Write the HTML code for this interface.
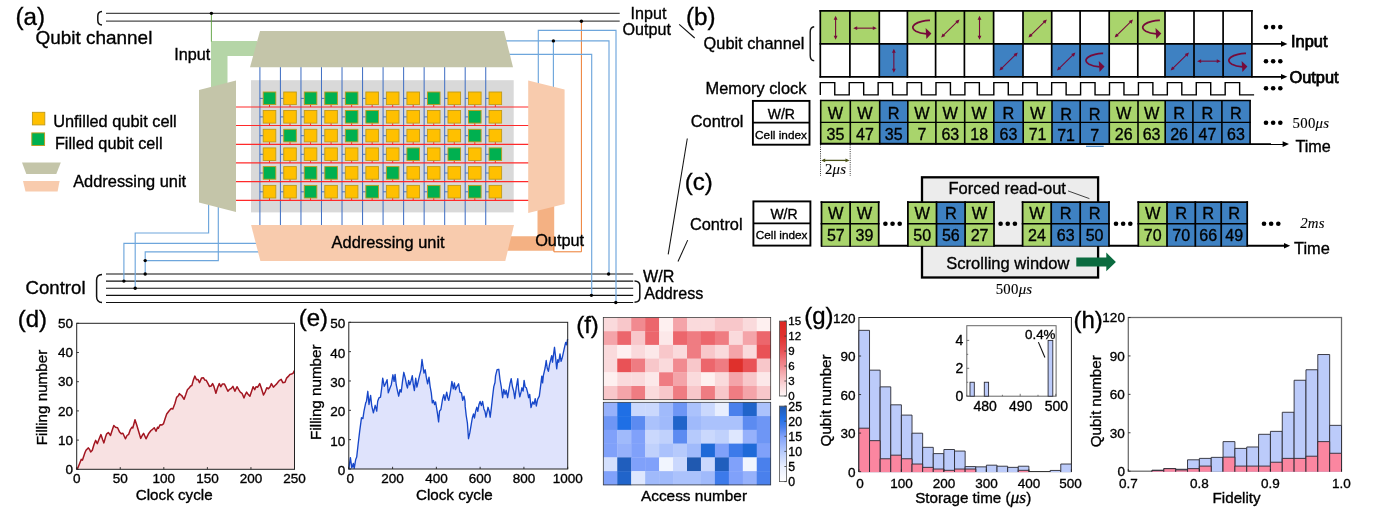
<!DOCTYPE html>
<html lang="en"><head><meta charset="utf-8"><title>Quantum memory figure</title>
<style>
html,body{margin:0;padding:0;background:#fff;}
body{width:1378px;height:514px;overflow:hidden;font-family:"Liberation Sans",sans-serif;}
svg{display:block;}
svg text{white-space:pre;stroke:#000;stroke-width:0.34px;}
</style></head><body>
<svg width="1378" height="514" viewBox="0 0 1378 514">
<rect width="1378" height="514" fill="#fff"/>
<!-- panel a -->
<line x1="106" y1="13.35" x2="619.7" y2="13.35" stroke="#4a4a4a" stroke-width="1.2"/>
<line x1="106" y1="21.2" x2="619.7" y2="21.2" stroke="#4a4a4a" stroke-width="1.2"/>
<path d="M102,11.6 C98.6,11.9 97.8,13.6 97.8,16 L97.8,20.5 C97.8,23.2 98.6,24.7 102,25" fill="none" stroke="#111" stroke-width="1.5"/>
<line x1="106" y1="274.0" x2="633.2" y2="274.0" stroke="#111" stroke-width="1.05"/>
<line x1="106" y1="281.1" x2="633.2" y2="281.1" stroke="#111" stroke-width="1.05"/>
<line x1="106" y1="288.25" x2="633.2" y2="288.25" stroke="#111" stroke-width="1.05"/>
<line x1="106" y1="295.35" x2="633.2" y2="295.35" stroke="#111" stroke-width="1.05"/>
<line x1="106" y1="302.45" x2="633.2" y2="302.45" stroke="#111" stroke-width="1.05"/>
<path d="M102,274.4 C98,274.6 96.6,276.5 96.6,280 L96.6,296.5 C96.6,300.3 98,302.3 102,302.6" fill="none" stroke="#111" stroke-width="1.5"/>
<path d="M634.5,281 C638.3,281.2 639.8,282.6 639.8,285.5 L639.8,297.8 C639.8,300.6 638.3,302 634.5,302.3" fill="none" stroke="#111" stroke-width="1.5"/>
<rect x="251" y="80.2" width="262.7" height="132.2" fill="#d9d9d9"/>
<path d="M211,41 L257,41 L257,56.1 L227.5,56.1 L227.5,90 L211,90 Z" fill="#b5d5a7"/>
<line x1="211.4" y1="13.35" x2="211.4" y2="41.5" stroke="#5aa03c" stroke-width="0.9"/>
<path d="M537.5,200 L554.2,200 L554.2,250.8 L505,250.8 L509,236.3 L537.5,236.3 Z" fill="#f4b183"/>
<path d="M581.4,21.2 L581.4,251.8 L553.9,251.8 L553.9,236" fill="none" stroke="#ed7d31" stroke-width="1"/>
<path d="M208.6,200 L208.6,233 L135.2,233 L135.2,288.1" fill="none" stroke="#6ea6dc" stroke-width="1.15"/>
<path d="M218.3,205 L218.3,260.6 L145.2,260.6" fill="none" stroke="#6ea6dc" stroke-width="1.15"/>
<path d="M258,243.3 L123.9,243.3 L123.9,281" fill="none" stroke="#6ea6dc" stroke-width="1.15"/>
<path d="M260,251.8 L145.2,251.8 L145.2,273.9" fill="none" stroke="#6ea6dc" stroke-width="1.15"/>
<path d="M538.3,85 L538.3,30.3 L616,30.3 L616,302.2" fill="none" stroke="#6ea6dc" stroke-width="1.15"/>
<path d="M505,40.9 L609,40.9 L609,273.9" fill="none" stroke="#6ea6dc" stroke-width="1.15"/>
<path d="M553.4,40.9 L553.4,88" fill="none" stroke="#6ea6dc" stroke-width="1.15"/>
<path d="M509,54.3 L591.7,54.3 L591.7,295.1" fill="none" stroke="#6ea6dc" stroke-width="1.15"/>
<line x1="259.90" y1="66" x2="259.90" y2="226" stroke="#4472c4" stroke-width="1.05"/>
<line x1="280.43" y1="66" x2="280.43" y2="226" stroke="#4472c4" stroke-width="1.05"/>
<line x1="300.96" y1="66" x2="300.96" y2="226" stroke="#4472c4" stroke-width="1.05"/>
<line x1="321.49" y1="66" x2="321.49" y2="226" stroke="#4472c4" stroke-width="1.05"/>
<line x1="342.02" y1="66" x2="342.02" y2="226" stroke="#4472c4" stroke-width="1.05"/>
<line x1="362.55" y1="66" x2="362.55" y2="226" stroke="#4472c4" stroke-width="1.05"/>
<line x1="383.08" y1="66" x2="383.08" y2="226" stroke="#4472c4" stroke-width="1.05"/>
<line x1="403.61" y1="66" x2="403.61" y2="226" stroke="#4472c4" stroke-width="1.05"/>
<line x1="424.14" y1="66" x2="424.14" y2="226" stroke="#4472c4" stroke-width="1.05"/>
<line x1="444.67" y1="66" x2="444.67" y2="226" stroke="#4472c4" stroke-width="1.05"/>
<line x1="465.20" y1="66" x2="465.20" y2="226" stroke="#4472c4" stroke-width="1.05"/>
<line x1="485.73" y1="66" x2="485.73" y2="226" stroke="#4472c4" stroke-width="1.05"/>
<line x1="236" y1="107.0" x2="529" y2="107.0" stroke="#ff2a2a" stroke-width="1.15"/>
<line x1="236" y1="125.5" x2="529" y2="125.5" stroke="#ff2a2a" stroke-width="1.15"/>
<line x1="236" y1="144.3" x2="529" y2="144.3" stroke="#ff2a2a" stroke-width="1.15"/>
<line x1="236" y1="162.9" x2="529" y2="162.9" stroke="#ff2a2a" stroke-width="1.15"/>
<line x1="236" y1="181.6" x2="529" y2="181.6" stroke="#ff2a2a" stroke-width="1.15"/>
<line x1="236" y1="200.4" x2="529" y2="200.4" stroke="#ff2a2a" stroke-width="1.15"/>
<line x1="259.90" y1="98.40" x2="263.20" y2="98.40" stroke="#4472c4" stroke-width="1"/>
<line x1="269.50" y1="104.60" x2="269.50" y2="107.00" stroke="#ff2a2a" stroke-width="1"/>
<rect x="263.20" y="92.00" width="12.6" height="12.6" fill="#00b050" stroke="#bf9a1a" stroke-width="0.9"/>
<line x1="280.43" y1="98.40" x2="283.73" y2="98.40" stroke="#4472c4" stroke-width="1"/>
<line x1="290.03" y1="104.60" x2="290.03" y2="107.00" stroke="#ff2a2a" stroke-width="1"/>
<rect x="283.73" y="92.00" width="12.6" height="12.6" fill="#ffc000" stroke="#bf9a1a" stroke-width="0.9"/>
<line x1="300.96" y1="98.40" x2="304.26" y2="98.40" stroke="#4472c4" stroke-width="1"/>
<line x1="310.56" y1="104.60" x2="310.56" y2="107.00" stroke="#ff2a2a" stroke-width="1"/>
<rect x="304.26" y="92.00" width="12.6" height="12.6" fill="#00b050" stroke="#bf9a1a" stroke-width="0.9"/>
<line x1="321.49" y1="98.40" x2="324.79" y2="98.40" stroke="#4472c4" stroke-width="1"/>
<line x1="331.09" y1="104.60" x2="331.09" y2="107.00" stroke="#ff2a2a" stroke-width="1"/>
<rect x="324.79" y="92.00" width="12.6" height="12.6" fill="#00b050" stroke="#bf9a1a" stroke-width="0.9"/>
<line x1="342.02" y1="98.40" x2="345.32" y2="98.40" stroke="#4472c4" stroke-width="1"/>
<line x1="351.62" y1="104.60" x2="351.62" y2="107.00" stroke="#ff2a2a" stroke-width="1"/>
<rect x="345.32" y="92.00" width="12.6" height="12.6" fill="#00b050" stroke="#bf9a1a" stroke-width="0.9"/>
<line x1="362.55" y1="98.40" x2="365.85" y2="98.40" stroke="#4472c4" stroke-width="1"/>
<line x1="372.15" y1="104.60" x2="372.15" y2="107.00" stroke="#ff2a2a" stroke-width="1"/>
<rect x="365.85" y="92.00" width="12.6" height="12.6" fill="#ffc000" stroke="#bf9a1a" stroke-width="0.9"/>
<line x1="383.08" y1="98.40" x2="386.38" y2="98.40" stroke="#4472c4" stroke-width="1"/>
<line x1="392.68" y1="104.60" x2="392.68" y2="107.00" stroke="#ff2a2a" stroke-width="1"/>
<rect x="386.38" y="92.00" width="12.6" height="12.6" fill="#ffc000" stroke="#bf9a1a" stroke-width="0.9"/>
<line x1="403.61" y1="98.40" x2="406.91" y2="98.40" stroke="#4472c4" stroke-width="1"/>
<line x1="413.21" y1="104.60" x2="413.21" y2="107.00" stroke="#ff2a2a" stroke-width="1"/>
<rect x="406.91" y="92.00" width="12.6" height="12.6" fill="#ffc000" stroke="#bf9a1a" stroke-width="0.9"/>
<line x1="424.14" y1="98.40" x2="427.44" y2="98.40" stroke="#4472c4" stroke-width="1"/>
<line x1="433.74" y1="104.60" x2="433.74" y2="107.00" stroke="#ff2a2a" stroke-width="1"/>
<rect x="427.44" y="92.00" width="12.6" height="12.6" fill="#00b050" stroke="#bf9a1a" stroke-width="0.9"/>
<line x1="444.67" y1="98.40" x2="447.97" y2="98.40" stroke="#4472c4" stroke-width="1"/>
<line x1="454.27" y1="104.60" x2="454.27" y2="107.00" stroke="#ff2a2a" stroke-width="1"/>
<rect x="447.97" y="92.00" width="12.6" height="12.6" fill="#ffc000" stroke="#bf9a1a" stroke-width="0.9"/>
<line x1="465.20" y1="98.40" x2="468.50" y2="98.40" stroke="#4472c4" stroke-width="1"/>
<line x1="474.80" y1="104.60" x2="474.80" y2="107.00" stroke="#ff2a2a" stroke-width="1"/>
<rect x="468.50" y="92.00" width="12.6" height="12.6" fill="#ffc000" stroke="#bf9a1a" stroke-width="0.9"/>
<line x1="485.73" y1="98.40" x2="489.03" y2="98.40" stroke="#4472c4" stroke-width="1"/>
<line x1="495.33" y1="104.60" x2="495.33" y2="107.00" stroke="#ff2a2a" stroke-width="1"/>
<rect x="489.03" y="92.00" width="12.6" height="12.6" fill="#ffc000" stroke="#bf9a1a" stroke-width="0.9"/>
<line x1="259.90" y1="116.90" x2="263.20" y2="116.90" stroke="#4472c4" stroke-width="1"/>
<line x1="269.50" y1="123.10" x2="269.50" y2="125.50" stroke="#ff2a2a" stroke-width="1"/>
<rect x="263.20" y="110.50" width="12.6" height="12.6" fill="#ffc000" stroke="#bf9a1a" stroke-width="0.9"/>
<line x1="280.43" y1="116.90" x2="283.73" y2="116.90" stroke="#4472c4" stroke-width="1"/>
<line x1="290.03" y1="123.10" x2="290.03" y2="125.50" stroke="#ff2a2a" stroke-width="1"/>
<rect x="283.73" y="110.50" width="12.6" height="12.6" fill="#ffc000" stroke="#bf9a1a" stroke-width="0.9"/>
<line x1="300.96" y1="116.90" x2="304.26" y2="116.90" stroke="#4472c4" stroke-width="1"/>
<line x1="310.56" y1="123.10" x2="310.56" y2="125.50" stroke="#ff2a2a" stroke-width="1"/>
<rect x="304.26" y="110.50" width="12.6" height="12.6" fill="#ffc000" stroke="#bf9a1a" stroke-width="0.9"/>
<line x1="321.49" y1="116.90" x2="324.79" y2="116.90" stroke="#4472c4" stroke-width="1"/>
<line x1="331.09" y1="123.10" x2="331.09" y2="125.50" stroke="#ff2a2a" stroke-width="1"/>
<rect x="324.79" y="110.50" width="12.6" height="12.6" fill="#ffc000" stroke="#bf9a1a" stroke-width="0.9"/>
<line x1="342.02" y1="116.90" x2="345.32" y2="116.90" stroke="#4472c4" stroke-width="1"/>
<line x1="351.62" y1="123.10" x2="351.62" y2="125.50" stroke="#ff2a2a" stroke-width="1"/>
<rect x="345.32" y="110.50" width="12.6" height="12.6" fill="#00b050" stroke="#bf9a1a" stroke-width="0.9"/>
<line x1="362.55" y1="116.90" x2="365.85" y2="116.90" stroke="#4472c4" stroke-width="1"/>
<line x1="372.15" y1="123.10" x2="372.15" y2="125.50" stroke="#ff2a2a" stroke-width="1"/>
<rect x="365.85" y="110.50" width="12.6" height="12.6" fill="#00b050" stroke="#bf9a1a" stroke-width="0.9"/>
<line x1="383.08" y1="116.90" x2="386.38" y2="116.90" stroke="#4472c4" stroke-width="1"/>
<line x1="392.68" y1="123.10" x2="392.68" y2="125.50" stroke="#ff2a2a" stroke-width="1"/>
<rect x="386.38" y="110.50" width="12.6" height="12.6" fill="#ffc000" stroke="#bf9a1a" stroke-width="0.9"/>
<line x1="403.61" y1="116.90" x2="406.91" y2="116.90" stroke="#4472c4" stroke-width="1"/>
<line x1="413.21" y1="123.10" x2="413.21" y2="125.50" stroke="#ff2a2a" stroke-width="1"/>
<rect x="406.91" y="110.50" width="12.6" height="12.6" fill="#ffc000" stroke="#bf9a1a" stroke-width="0.9"/>
<line x1="424.14" y1="116.90" x2="427.44" y2="116.90" stroke="#4472c4" stroke-width="1"/>
<line x1="433.74" y1="123.10" x2="433.74" y2="125.50" stroke="#ff2a2a" stroke-width="1"/>
<rect x="427.44" y="110.50" width="12.6" height="12.6" fill="#ffc000" stroke="#bf9a1a" stroke-width="0.9"/>
<line x1="444.67" y1="116.90" x2="447.97" y2="116.90" stroke="#4472c4" stroke-width="1"/>
<line x1="454.27" y1="123.10" x2="454.27" y2="125.50" stroke="#ff2a2a" stroke-width="1"/>
<rect x="447.97" y="110.50" width="12.6" height="12.6" fill="#ffc000" stroke="#bf9a1a" stroke-width="0.9"/>
<line x1="465.20" y1="116.90" x2="468.50" y2="116.90" stroke="#4472c4" stroke-width="1"/>
<line x1="474.80" y1="123.10" x2="474.80" y2="125.50" stroke="#ff2a2a" stroke-width="1"/>
<rect x="468.50" y="110.50" width="12.6" height="12.6" fill="#00b050" stroke="#bf9a1a" stroke-width="0.9"/>
<line x1="485.73" y1="116.90" x2="489.03" y2="116.90" stroke="#4472c4" stroke-width="1"/>
<line x1="495.33" y1="123.10" x2="495.33" y2="125.50" stroke="#ff2a2a" stroke-width="1"/>
<rect x="489.03" y="110.50" width="12.6" height="12.6" fill="#ffc000" stroke="#bf9a1a" stroke-width="0.9"/>
<line x1="259.90" y1="135.70" x2="263.20" y2="135.70" stroke="#4472c4" stroke-width="1"/>
<line x1="269.50" y1="141.90" x2="269.50" y2="144.30" stroke="#ff2a2a" stroke-width="1"/>
<rect x="263.20" y="129.30" width="12.6" height="12.6" fill="#ffc000" stroke="#bf9a1a" stroke-width="0.9"/>
<line x1="280.43" y1="135.70" x2="283.73" y2="135.70" stroke="#4472c4" stroke-width="1"/>
<line x1="290.03" y1="141.90" x2="290.03" y2="144.30" stroke="#ff2a2a" stroke-width="1"/>
<rect x="283.73" y="129.30" width="12.6" height="12.6" fill="#00b050" stroke="#bf9a1a" stroke-width="0.9"/>
<line x1="300.96" y1="135.70" x2="304.26" y2="135.70" stroke="#4472c4" stroke-width="1"/>
<line x1="310.56" y1="141.90" x2="310.56" y2="144.30" stroke="#ff2a2a" stroke-width="1"/>
<rect x="304.26" y="129.30" width="12.6" height="12.6" fill="#ffc000" stroke="#bf9a1a" stroke-width="0.9"/>
<line x1="321.49" y1="135.70" x2="324.79" y2="135.70" stroke="#4472c4" stroke-width="1"/>
<line x1="331.09" y1="141.90" x2="331.09" y2="144.30" stroke="#ff2a2a" stroke-width="1"/>
<rect x="324.79" y="129.30" width="12.6" height="12.6" fill="#ffc000" stroke="#bf9a1a" stroke-width="0.9"/>
<line x1="342.02" y1="135.70" x2="345.32" y2="135.70" stroke="#4472c4" stroke-width="1"/>
<line x1="351.62" y1="141.90" x2="351.62" y2="144.30" stroke="#ff2a2a" stroke-width="1"/>
<rect x="345.32" y="129.30" width="12.6" height="12.6" fill="#00b050" stroke="#bf9a1a" stroke-width="0.9"/>
<line x1="362.55" y1="135.70" x2="365.85" y2="135.70" stroke="#4472c4" stroke-width="1"/>
<line x1="372.15" y1="141.90" x2="372.15" y2="144.30" stroke="#ff2a2a" stroke-width="1"/>
<rect x="365.85" y="129.30" width="12.6" height="12.6" fill="#ffc000" stroke="#bf9a1a" stroke-width="0.9"/>
<line x1="383.08" y1="135.70" x2="386.38" y2="135.70" stroke="#4472c4" stroke-width="1"/>
<line x1="392.68" y1="141.90" x2="392.68" y2="144.30" stroke="#ff2a2a" stroke-width="1"/>
<rect x="386.38" y="129.30" width="12.6" height="12.6" fill="#ffc000" stroke="#bf9a1a" stroke-width="0.9"/>
<line x1="403.61" y1="135.70" x2="406.91" y2="135.70" stroke="#4472c4" stroke-width="1"/>
<line x1="413.21" y1="141.90" x2="413.21" y2="144.30" stroke="#ff2a2a" stroke-width="1"/>
<rect x="406.91" y="129.30" width="12.6" height="12.6" fill="#ffc000" stroke="#bf9a1a" stroke-width="0.9"/>
<line x1="424.14" y1="135.70" x2="427.44" y2="135.70" stroke="#4472c4" stroke-width="1"/>
<line x1="433.74" y1="141.90" x2="433.74" y2="144.30" stroke="#ff2a2a" stroke-width="1"/>
<rect x="427.44" y="129.30" width="12.6" height="12.6" fill="#ffc000" stroke="#bf9a1a" stroke-width="0.9"/>
<line x1="444.67" y1="135.70" x2="447.97" y2="135.70" stroke="#4472c4" stroke-width="1"/>
<line x1="454.27" y1="141.90" x2="454.27" y2="144.30" stroke="#ff2a2a" stroke-width="1"/>
<rect x="447.97" y="129.30" width="12.6" height="12.6" fill="#ffc000" stroke="#bf9a1a" stroke-width="0.9"/>
<line x1="465.20" y1="135.70" x2="468.50" y2="135.70" stroke="#4472c4" stroke-width="1"/>
<line x1="474.80" y1="141.90" x2="474.80" y2="144.30" stroke="#ff2a2a" stroke-width="1"/>
<rect x="468.50" y="129.30" width="12.6" height="12.6" fill="#00b050" stroke="#bf9a1a" stroke-width="0.9"/>
<line x1="485.73" y1="135.70" x2="489.03" y2="135.70" stroke="#4472c4" stroke-width="1"/>
<line x1="495.33" y1="141.90" x2="495.33" y2="144.30" stroke="#ff2a2a" stroke-width="1"/>
<rect x="489.03" y="129.30" width="12.6" height="12.6" fill="#ffc000" stroke="#bf9a1a" stroke-width="0.9"/>
<line x1="259.90" y1="154.30" x2="263.20" y2="154.30" stroke="#4472c4" stroke-width="1"/>
<line x1="269.50" y1="160.50" x2="269.50" y2="162.90" stroke="#ff2a2a" stroke-width="1"/>
<rect x="263.20" y="147.90" width="12.6" height="12.6" fill="#ffc000" stroke="#bf9a1a" stroke-width="0.9"/>
<line x1="280.43" y1="154.30" x2="283.73" y2="154.30" stroke="#4472c4" stroke-width="1"/>
<line x1="290.03" y1="160.50" x2="290.03" y2="162.90" stroke="#ff2a2a" stroke-width="1"/>
<rect x="283.73" y="147.90" width="12.6" height="12.6" fill="#ffc000" stroke="#bf9a1a" stroke-width="0.9"/>
<line x1="300.96" y1="154.30" x2="304.26" y2="154.30" stroke="#4472c4" stroke-width="1"/>
<line x1="310.56" y1="160.50" x2="310.56" y2="162.90" stroke="#ff2a2a" stroke-width="1"/>
<rect x="304.26" y="147.90" width="12.6" height="12.6" fill="#ffc000" stroke="#bf9a1a" stroke-width="0.9"/>
<line x1="321.49" y1="154.30" x2="324.79" y2="154.30" stroke="#4472c4" stroke-width="1"/>
<line x1="331.09" y1="160.50" x2="331.09" y2="162.90" stroke="#ff2a2a" stroke-width="1"/>
<rect x="324.79" y="147.90" width="12.6" height="12.6" fill="#ffc000" stroke="#bf9a1a" stroke-width="0.9"/>
<line x1="342.02" y1="154.30" x2="345.32" y2="154.30" stroke="#4472c4" stroke-width="1"/>
<line x1="351.62" y1="160.50" x2="351.62" y2="162.90" stroke="#ff2a2a" stroke-width="1"/>
<rect x="345.32" y="147.90" width="12.6" height="12.6" fill="#ffc000" stroke="#bf9a1a" stroke-width="0.9"/>
<line x1="362.55" y1="154.30" x2="365.85" y2="154.30" stroke="#4472c4" stroke-width="1"/>
<line x1="372.15" y1="160.50" x2="372.15" y2="162.90" stroke="#ff2a2a" stroke-width="1"/>
<rect x="365.85" y="147.90" width="12.6" height="12.6" fill="#ffc000" stroke="#bf9a1a" stroke-width="0.9"/>
<line x1="383.08" y1="154.30" x2="386.38" y2="154.30" stroke="#4472c4" stroke-width="1"/>
<line x1="392.68" y1="160.50" x2="392.68" y2="162.90" stroke="#ff2a2a" stroke-width="1"/>
<rect x="386.38" y="147.90" width="12.6" height="12.6" fill="#ffc000" stroke="#bf9a1a" stroke-width="0.9"/>
<line x1="403.61" y1="154.30" x2="406.91" y2="154.30" stroke="#4472c4" stroke-width="1"/>
<line x1="413.21" y1="160.50" x2="413.21" y2="162.90" stroke="#ff2a2a" stroke-width="1"/>
<rect x="406.91" y="147.90" width="12.6" height="12.6" fill="#00b050" stroke="#bf9a1a" stroke-width="0.9"/>
<line x1="424.14" y1="154.30" x2="427.44" y2="154.30" stroke="#4472c4" stroke-width="1"/>
<line x1="433.74" y1="160.50" x2="433.74" y2="162.90" stroke="#ff2a2a" stroke-width="1"/>
<rect x="427.44" y="147.90" width="12.6" height="12.6" fill="#ffc000" stroke="#bf9a1a" stroke-width="0.9"/>
<line x1="444.67" y1="154.30" x2="447.97" y2="154.30" stroke="#4472c4" stroke-width="1"/>
<line x1="454.27" y1="160.50" x2="454.27" y2="162.90" stroke="#ff2a2a" stroke-width="1"/>
<rect x="447.97" y="147.90" width="12.6" height="12.6" fill="#00b050" stroke="#bf9a1a" stroke-width="0.9"/>
<line x1="465.20" y1="154.30" x2="468.50" y2="154.30" stroke="#4472c4" stroke-width="1"/>
<line x1="474.80" y1="160.50" x2="474.80" y2="162.90" stroke="#ff2a2a" stroke-width="1"/>
<rect x="468.50" y="147.90" width="12.6" height="12.6" fill="#ffc000" stroke="#bf9a1a" stroke-width="0.9"/>
<line x1="485.73" y1="154.30" x2="489.03" y2="154.30" stroke="#4472c4" stroke-width="1"/>
<line x1="495.33" y1="160.50" x2="495.33" y2="162.90" stroke="#ff2a2a" stroke-width="1"/>
<rect x="489.03" y="147.90" width="12.6" height="12.6" fill="#00b050" stroke="#bf9a1a" stroke-width="0.9"/>
<line x1="259.90" y1="173.00" x2="263.20" y2="173.00" stroke="#4472c4" stroke-width="1"/>
<line x1="269.50" y1="179.20" x2="269.50" y2="181.60" stroke="#ff2a2a" stroke-width="1"/>
<rect x="263.20" y="166.60" width="12.6" height="12.6" fill="#00b050" stroke="#bf9a1a" stroke-width="0.9"/>
<line x1="280.43" y1="173.00" x2="283.73" y2="173.00" stroke="#4472c4" stroke-width="1"/>
<line x1="290.03" y1="179.20" x2="290.03" y2="181.60" stroke="#ff2a2a" stroke-width="1"/>
<rect x="283.73" y="166.60" width="12.6" height="12.6" fill="#ffc000" stroke="#bf9a1a" stroke-width="0.9"/>
<line x1="300.96" y1="173.00" x2="304.26" y2="173.00" stroke="#4472c4" stroke-width="1"/>
<line x1="310.56" y1="179.20" x2="310.56" y2="181.60" stroke="#ff2a2a" stroke-width="1"/>
<rect x="304.26" y="166.60" width="12.6" height="12.6" fill="#00b050" stroke="#bf9a1a" stroke-width="0.9"/>
<line x1="321.49" y1="173.00" x2="324.79" y2="173.00" stroke="#4472c4" stroke-width="1"/>
<line x1="331.09" y1="179.20" x2="331.09" y2="181.60" stroke="#ff2a2a" stroke-width="1"/>
<rect x="324.79" y="166.60" width="12.6" height="12.6" fill="#00b050" stroke="#bf9a1a" stroke-width="0.9"/>
<line x1="342.02" y1="173.00" x2="345.32" y2="173.00" stroke="#4472c4" stroke-width="1"/>
<line x1="351.62" y1="179.20" x2="351.62" y2="181.60" stroke="#ff2a2a" stroke-width="1"/>
<rect x="345.32" y="166.60" width="12.6" height="12.6" fill="#ffc000" stroke="#bf9a1a" stroke-width="0.9"/>
<line x1="362.55" y1="173.00" x2="365.85" y2="173.00" stroke="#4472c4" stroke-width="1"/>
<line x1="372.15" y1="179.20" x2="372.15" y2="181.60" stroke="#ff2a2a" stroke-width="1"/>
<rect x="365.85" y="166.60" width="12.6" height="12.6" fill="#ffc000" stroke="#bf9a1a" stroke-width="0.9"/>
<line x1="383.08" y1="173.00" x2="386.38" y2="173.00" stroke="#4472c4" stroke-width="1"/>
<line x1="392.68" y1="179.20" x2="392.68" y2="181.60" stroke="#ff2a2a" stroke-width="1"/>
<rect x="386.38" y="166.60" width="12.6" height="12.6" fill="#00b050" stroke="#bf9a1a" stroke-width="0.9"/>
<line x1="403.61" y1="173.00" x2="406.91" y2="173.00" stroke="#4472c4" stroke-width="1"/>
<line x1="413.21" y1="179.20" x2="413.21" y2="181.60" stroke="#ff2a2a" stroke-width="1"/>
<rect x="406.91" y="166.60" width="12.6" height="12.6" fill="#ffc000" stroke="#bf9a1a" stroke-width="0.9"/>
<line x1="424.14" y1="173.00" x2="427.44" y2="173.00" stroke="#4472c4" stroke-width="1"/>
<line x1="433.74" y1="179.20" x2="433.74" y2="181.60" stroke="#ff2a2a" stroke-width="1"/>
<rect x="427.44" y="166.60" width="12.6" height="12.6" fill="#ffc000" stroke="#bf9a1a" stroke-width="0.9"/>
<line x1="444.67" y1="173.00" x2="447.97" y2="173.00" stroke="#4472c4" stroke-width="1"/>
<line x1="454.27" y1="179.20" x2="454.27" y2="181.60" stroke="#ff2a2a" stroke-width="1"/>
<rect x="447.97" y="166.60" width="12.6" height="12.6" fill="#ffc000" stroke="#bf9a1a" stroke-width="0.9"/>
<line x1="465.20" y1="173.00" x2="468.50" y2="173.00" stroke="#4472c4" stroke-width="1"/>
<line x1="474.80" y1="179.20" x2="474.80" y2="181.60" stroke="#ff2a2a" stroke-width="1"/>
<rect x="468.50" y="166.60" width="12.6" height="12.6" fill="#ffc000" stroke="#bf9a1a" stroke-width="0.9"/>
<line x1="485.73" y1="173.00" x2="489.03" y2="173.00" stroke="#4472c4" stroke-width="1"/>
<line x1="495.33" y1="179.20" x2="495.33" y2="181.60" stroke="#ff2a2a" stroke-width="1"/>
<rect x="489.03" y="166.60" width="12.6" height="12.6" fill="#ffc000" stroke="#bf9a1a" stroke-width="0.9"/>
<line x1="259.90" y1="191.80" x2="263.20" y2="191.80" stroke="#4472c4" stroke-width="1"/>
<line x1="269.50" y1="198.00" x2="269.50" y2="200.40" stroke="#ff2a2a" stroke-width="1"/>
<rect x="263.20" y="185.40" width="12.6" height="12.6" fill="#ffc000" stroke="#bf9a1a" stroke-width="0.9"/>
<line x1="280.43" y1="191.80" x2="283.73" y2="191.80" stroke="#4472c4" stroke-width="1"/>
<line x1="290.03" y1="198.00" x2="290.03" y2="200.40" stroke="#ff2a2a" stroke-width="1"/>
<rect x="283.73" y="185.40" width="12.6" height="12.6" fill="#ffc000" stroke="#bf9a1a" stroke-width="0.9"/>
<line x1="300.96" y1="191.80" x2="304.26" y2="191.80" stroke="#4472c4" stroke-width="1"/>
<line x1="310.56" y1="198.00" x2="310.56" y2="200.40" stroke="#ff2a2a" stroke-width="1"/>
<rect x="304.26" y="185.40" width="12.6" height="12.6" fill="#00b050" stroke="#bf9a1a" stroke-width="0.9"/>
<line x1="321.49" y1="191.80" x2="324.79" y2="191.80" stroke="#4472c4" stroke-width="1"/>
<line x1="331.09" y1="198.00" x2="331.09" y2="200.40" stroke="#ff2a2a" stroke-width="1"/>
<rect x="324.79" y="185.40" width="12.6" height="12.6" fill="#ffc000" stroke="#bf9a1a" stroke-width="0.9"/>
<line x1="342.02" y1="191.80" x2="345.32" y2="191.80" stroke="#4472c4" stroke-width="1"/>
<line x1="351.62" y1="198.00" x2="351.62" y2="200.40" stroke="#ff2a2a" stroke-width="1"/>
<rect x="345.32" y="185.40" width="12.6" height="12.6" fill="#ffc000" stroke="#bf9a1a" stroke-width="0.9"/>
<line x1="362.55" y1="191.80" x2="365.85" y2="191.80" stroke="#4472c4" stroke-width="1"/>
<line x1="372.15" y1="198.00" x2="372.15" y2="200.40" stroke="#ff2a2a" stroke-width="1"/>
<rect x="365.85" y="185.40" width="12.6" height="12.6" fill="#00b050" stroke="#bf9a1a" stroke-width="0.9"/>
<line x1="383.08" y1="191.80" x2="386.38" y2="191.80" stroke="#4472c4" stroke-width="1"/>
<line x1="392.68" y1="198.00" x2="392.68" y2="200.40" stroke="#ff2a2a" stroke-width="1"/>
<rect x="386.38" y="185.40" width="12.6" height="12.6" fill="#ffc000" stroke="#bf9a1a" stroke-width="0.9"/>
<line x1="403.61" y1="191.80" x2="406.91" y2="191.80" stroke="#4472c4" stroke-width="1"/>
<line x1="413.21" y1="198.00" x2="413.21" y2="200.40" stroke="#ff2a2a" stroke-width="1"/>
<rect x="406.91" y="185.40" width="12.6" height="12.6" fill="#ffc000" stroke="#bf9a1a" stroke-width="0.9"/>
<line x1="424.14" y1="191.80" x2="427.44" y2="191.80" stroke="#4472c4" stroke-width="1"/>
<line x1="433.74" y1="198.00" x2="433.74" y2="200.40" stroke="#ff2a2a" stroke-width="1"/>
<rect x="427.44" y="185.40" width="12.6" height="12.6" fill="#00b050" stroke="#bf9a1a" stroke-width="0.9"/>
<line x1="444.67" y1="191.80" x2="447.97" y2="191.80" stroke="#4472c4" stroke-width="1"/>
<line x1="454.27" y1="198.00" x2="454.27" y2="200.40" stroke="#ff2a2a" stroke-width="1"/>
<rect x="447.97" y="185.40" width="12.6" height="12.6" fill="#ffc000" stroke="#bf9a1a" stroke-width="0.9"/>
<line x1="465.20" y1="191.80" x2="468.50" y2="191.80" stroke="#4472c4" stroke-width="1"/>
<line x1="474.80" y1="198.00" x2="474.80" y2="200.40" stroke="#ff2a2a" stroke-width="1"/>
<rect x="468.50" y="185.40" width="12.6" height="12.6" fill="#00b050" stroke="#bf9a1a" stroke-width="0.9"/>
<line x1="485.73" y1="191.80" x2="489.03" y2="191.80" stroke="#4472c4" stroke-width="1"/>
<line x1="495.33" y1="198.00" x2="495.33" y2="200.40" stroke="#ff2a2a" stroke-width="1"/>
<rect x="489.03" y="185.40" width="12.6" height="12.6" fill="#ffc000" stroke="#bf9a1a" stroke-width="0.9"/>
<polygon points="260,31 504,31 513,67.2 250,67.2" fill="#c4c5a9"/>
<polygon points="199,90 236,80.5 236,212 199,202.5" fill="#c4c5a9"/>
<polygon points="528.2,80.4 564.6,89.5 564.6,203.9 528.2,213" fill="#f8cbad"/>
<polygon points="251.1,225 514,225 505.3,261 260.4,261" fill="#f8cbad"/>
<circle cx="211.4" cy="13.35" r="1.7" fill="#000"/>
<circle cx="581.4" cy="21.2" r="1.7" fill="#000"/>
<circle cx="553.4" cy="40.9" r="1.7" fill="#000"/>
<circle cx="145.2" cy="260.6" r="1.7" fill="#000"/>
<circle cx="145.2" cy="274.0" r="1.7" fill="#000"/>
<circle cx="123.9" cy="281.1" r="1.7" fill="#000"/>
<circle cx="135.2" cy="288.25" r="1.7" fill="#000"/>
<circle cx="608.6" cy="274.0" r="1.7" fill="#000"/>
<circle cx="591.4" cy="295.35" r="1.7" fill="#000"/>
<circle cx="615.8" cy="302.45" r="1.7" fill="#000"/>
<rect x="32.4" y="112.3" width="12.4" height="12.6" fill="#ffc000" stroke="#bf9a1a" stroke-width="0.9"/>
<rect x="31.8" y="132.9" width="12.8" height="12.6" fill="#00b050" stroke="#bf9a1a" stroke-width="0.9"/>
<polygon points="22,162.6 60.8,162.6 56.3,173.9 26.3,173.9" fill="#c4c5a9"/>
<polygon points="23,180.9 59.6,180.9 57.6,191.4 25.5,191.4" fill="#f8cbad"/>
<text x="15.5" y="24.6" font-size="24.2" text-anchor="start" font-family="Liberation Sans, sans-serif" fill="#000" >(a)</text>
<text x="35.5" y="44" font-size="18.95" text-anchor="start" font-family="Liberation Sans, sans-serif" fill="#000" >Qubit channel</text>
<text x="174.3" y="60.2" font-size="16.2" text-anchor="start" font-family="Liberation Sans, sans-serif" fill="#000" >Input</text>
<text x="53.2" y="126.6" font-size="16.35" text-anchor="start" font-family="Liberation Sans, sans-serif" fill="#000" >Unfilled qubit cell</text>
<text x="54.9" y="148.7" font-size="16.3" text-anchor="start" font-family="Liberation Sans, sans-serif" fill="#000" >Filled qubit cell</text>
<text x="73.2" y="187.2" font-size="16.4" text-anchor="start" font-family="Liberation Sans, sans-serif" fill="#000" >Addressing unit</text>
<text x="331.6" y="248.3" font-size="16.4" text-anchor="start" font-family="Liberation Sans, sans-serif" fill="#000" >Addressing unit</text>
<text x="535.2" y="246.2" font-size="16.3" text-anchor="start" font-family="Liberation Sans, sans-serif" fill="#000" >Output</text>
<text x="25.6" y="294" font-size="18.6" text-anchor="start" font-family="Liberation Sans, sans-serif" fill="#000" >Control</text>
<text x="630.6" y="18.9" font-size="16.1" text-anchor="start" font-family="Liberation Sans, sans-serif" fill="#000" >Input</text>
<text x="622.6" y="34.6" font-size="16.1" text-anchor="start" font-family="Liberation Sans, sans-serif" fill="#000" >Output</text>
<text x="643" y="282.4" font-size="16.1" text-anchor="start" font-family="Liberation Sans, sans-serif" fill="#000" >W/R</text>
<text x="644.2" y="298.6" font-size="16.1" text-anchor="start" font-family="Liberation Sans, sans-serif" fill="#000" >Address</text>
<line x1="679.2" y1="24.3" x2="694.7" y2="38" stroke="#111" stroke-width="1.1"/>
<line x1="687.3" y1="138.5" x2="668.2" y2="254.3" stroke="#111" stroke-width="1.05"/>
<line x1="687.7" y1="240.1" x2="678" y2="261.5" stroke="#111" stroke-width="1.05"/>
<!-- panel b -->
<rect x="820.30" y="10.8" width="29.60" height="33.10" fill="#a9d46c"/>
<line x1="835.60" y1="17.85" x2="835.60" y2="37.75" stroke="#760b3a" stroke-width="1.1"/><polygon points="835.60,39.75 833.70,35.75 837.50,35.75" fill="#760b3a"/><polygon points="835.60,15.85 837.50,19.85 833.70,19.85" fill="#760b3a"/>
<rect x="849.90" y="10.8" width="29.40" height="33.10" fill="#a9d46c"/>
<line x1="855.20" y1="28.15" x2="874.80" y2="28.15" stroke="#760b3a" stroke-width="1.1"/><polygon points="876.80,28.15 872.80,30.05 872.80,26.25" fill="#760b3a"/><polygon points="853.20,28.15 857.20,26.25 857.20,30.05" fill="#760b3a"/>
<rect x="879.30" y="43.9" width="28.10" height="32.90" fill="#3e81c2"/>
<line x1="893.85" y1="50.85" x2="893.85" y2="70.75" stroke="#760b3a" stroke-width="1.1"/><polygon points="893.85,72.75 891.95,68.75 895.75,68.75" fill="#760b3a"/><polygon points="893.85,48.85 895.75,52.85 891.95,52.85" fill="#760b3a"/>
<rect x="907.40" y="10.8" width="28.20" height="33.10" fill="#a9d46c"/>
<path d="M930.00,20.45 C925.50,20.15 918.00,21.75 914.90,24.25 C913.30,25.55 912.50,26.75 912.90,27.95 C913.30,29.55 914.50,30.55 915.90,31.35 C918.50,32.75 922.50,33.65 926.50,33.95" fill="none" stroke="#760b3a" stroke-width="1.7"/><polygon points="931.40,33.55 925.60,28.05 926.40,38.95" fill="#760b3a"/>
<rect x="935.60" y="10.8" width="28.80" height="33.10" fill="#a9d46c"/>
<line x1="942.53" y1="36.15" x2="958.07" y2="20.95" stroke="#760b3a" stroke-width="1.1"/><polygon points="959.50,19.55 957.97,23.71 955.31,20.99" fill="#760b3a"/><polygon points="941.10,37.55 942.63,33.39 945.29,36.11" fill="#760b3a"/>
<rect x="964.40" y="10.8" width="29.20" height="33.10" fill="#a9d46c"/>
<line x1="979.50" y1="17.85" x2="979.50" y2="37.75" stroke="#760b3a" stroke-width="1.1"/><polygon points="979.50,39.75 977.60,35.75 981.40,35.75" fill="#760b3a"/><polygon points="979.50,15.85 981.40,19.85 977.60,19.85" fill="#760b3a"/>
<rect x="993.60" y="43.9" width="29.40" height="32.90" fill="#3e81c2"/>
<line x1="1000.83" y1="69.15" x2="1016.37" y2="53.95" stroke="#760b3a" stroke-width="1.1"/><polygon points="1017.80,52.55 1016.27,56.71 1013.61,53.99" fill="#760b3a"/><polygon points="999.40,70.55 1000.93,66.39 1003.59,69.11" fill="#760b3a"/>
<rect x="1023.00" y="10.8" width="28.70" height="33.10" fill="#a9d46c"/>
<line x1="1029.88" y1="36.15" x2="1045.42" y2="20.95" stroke="#760b3a" stroke-width="1.1"/><polygon points="1046.85,19.55 1045.32,23.71 1042.66,20.99" fill="#760b3a"/><polygon points="1028.45,37.55 1029.98,33.39 1032.64,36.11" fill="#760b3a"/>
<rect x="1051.70" y="43.9" width="28.40" height="32.90" fill="#3e81c2"/>
<line x1="1058.43" y1="69.15" x2="1073.97" y2="53.95" stroke="#760b3a" stroke-width="1.1"/><polygon points="1075.40,52.55 1073.87,56.71 1071.21,53.99" fill="#760b3a"/><polygon points="1057.00,70.55 1058.53,66.39 1061.19,69.11" fill="#760b3a"/>
<rect x="1080.10" y="43.9" width="29.10" height="32.90" fill="#3e81c2"/>
<path d="M1103.15,53.45 C1098.65,53.15 1091.15,54.75 1088.05,57.25 C1086.45,58.55 1085.65,59.75 1086.05,60.95 C1086.45,62.55 1087.65,63.55 1089.05,64.35 C1091.65,65.75 1095.65,66.65 1099.65,66.95" fill="none" stroke="#760b3a" stroke-width="1.7"/><polygon points="1104.55,66.55 1098.75,61.05 1099.55,71.95" fill="#760b3a"/>
<rect x="1109.20" y="10.8" width="28.60" height="33.10" fill="#a9d46c"/>
<line x1="1116.03" y1="36.15" x2="1131.57" y2="20.95" stroke="#760b3a" stroke-width="1.1"/><polygon points="1133.00,19.55 1131.47,23.71 1128.81,20.99" fill="#760b3a"/><polygon points="1114.60,37.55 1116.13,33.39 1118.79,36.11" fill="#760b3a"/>
<rect x="1137.80" y="10.8" width="27.20" height="33.10" fill="#a9d46c"/>
<path d="M1159.90,20.45 C1155.40,20.15 1147.90,21.75 1144.80,24.25 C1143.20,25.55 1142.40,26.75 1142.80,27.95 C1143.20,29.55 1144.40,30.55 1145.80,31.35 C1148.40,32.75 1152.40,33.65 1156.40,33.95" fill="none" stroke="#760b3a" stroke-width="1.7"/><polygon points="1161.30,33.55 1155.50,28.05 1156.30,38.95" fill="#760b3a"/>
<rect x="1165.00" y="43.9" width="29.00" height="32.90" fill="#3e81c2"/>
<line x1="1172.03" y1="69.15" x2="1187.57" y2="53.95" stroke="#760b3a" stroke-width="1.1"/><polygon points="1189.00,52.55 1187.47,56.71 1184.81,53.99" fill="#760b3a"/><polygon points="1170.60,70.55 1172.13,66.39 1174.79,69.11" fill="#760b3a"/>
<rect x="1194.00" y="43.9" width="29.10" height="32.90" fill="#3e81c2"/>
<line x1="1199.15" y1="61.15" x2="1218.75" y2="61.15" stroke="#760b3a" stroke-width="1.1"/><polygon points="1220.75,61.15 1216.75,63.05 1216.75,59.25" fill="#760b3a"/><polygon points="1197.15,61.15 1201.15,59.25 1201.15,63.05" fill="#760b3a"/>
<rect x="1223.10" y="43.9" width="28.80" height="32.90" fill="#3e81c2"/>
<path d="M1246.00,53.45 C1241.50,53.15 1234.00,54.75 1230.90,57.25 C1229.30,58.55 1228.50,59.75 1228.90,60.95 C1229.30,62.55 1230.50,63.55 1231.90,64.35 C1234.50,65.75 1238.50,66.65 1242.50,66.95" fill="none" stroke="#760b3a" stroke-width="1.7"/><polygon points="1247.40,66.55 1241.60,61.05 1242.40,71.95" fill="#760b3a"/>
<line x1="820.30" y1="10.0" x2="820.30" y2="77.6" stroke="#000" stroke-width="1.7"/>
<line x1="849.90" y1="10.0" x2="849.90" y2="77.6" stroke="#000" stroke-width="1.7"/>
<line x1="879.30" y1="10.0" x2="879.30" y2="77.6" stroke="#000" stroke-width="1.7"/>
<line x1="907.40" y1="10.0" x2="907.40" y2="77.6" stroke="#000" stroke-width="1.7"/>
<line x1="935.60" y1="10.0" x2="935.60" y2="77.6" stroke="#000" stroke-width="1.7"/>
<line x1="964.40" y1="10.0" x2="964.40" y2="77.6" stroke="#000" stroke-width="1.7"/>
<line x1="993.60" y1="10.0" x2="993.60" y2="77.6" stroke="#000" stroke-width="1.7"/>
<line x1="1023.00" y1="10.0" x2="1023.00" y2="77.6" stroke="#000" stroke-width="1.7"/>
<line x1="1051.70" y1="10.0" x2="1051.70" y2="77.6" stroke="#000" stroke-width="1.7"/>
<line x1="1080.10" y1="10.0" x2="1080.10" y2="77.6" stroke="#000" stroke-width="1.7"/>
<line x1="1109.20" y1="10.0" x2="1109.20" y2="77.6" stroke="#000" stroke-width="1.7"/>
<line x1="1137.80" y1="10.0" x2="1137.80" y2="77.6" stroke="#000" stroke-width="1.7"/>
<line x1="1165.00" y1="10.0" x2="1165.00" y2="77.6" stroke="#000" stroke-width="1.7"/>
<line x1="1194.00" y1="10.0" x2="1194.00" y2="77.6" stroke="#000" stroke-width="1.7"/>
<line x1="1223.10" y1="10.0" x2="1223.10" y2="77.6" stroke="#000" stroke-width="1.7"/>
<line x1="1251.90" y1="10.0" x2="1251.90" y2="77.6" stroke="#000" stroke-width="1.7"/>
<line x1="819.4499999999999" y1="10.8" x2="1252.75" y2="10.8" stroke="#000" stroke-width="1.7"/>
<line x1="819.4499999999999" y1="43.9" x2="1283" y2="43.9" stroke="#000" stroke-width="1.8"/>
<line x1="819.4499999999999" y1="76.8" x2="1283" y2="76.8" stroke="#000" stroke-width="1.8"/>
<polygon points="1287.40,43.90 1281.00,46.70 1281.00,41.10" fill="#000"/>
<polygon points="1287.40,76.80 1281.00,79.60 1281.00,74.00" fill="#000"/>
<circle cx="1266.00" cy="27.1" r="2.3" fill="#000"/>
<circle cx="1273.15" cy="27.1" r="2.3" fill="#000"/>
<circle cx="1280.30" cy="27.1" r="2.3" fill="#000"/>
<circle cx="1266.00" cy="61.2" r="2.3" fill="#000"/>
<circle cx="1273.15" cy="61.2" r="2.3" fill="#000"/>
<circle cx="1280.30" cy="61.2" r="2.3" fill="#000"/>
<circle cx="1266.00" cy="88.3" r="2.3" fill="#000"/>
<circle cx="1273.15" cy="88.3" r="2.3" fill="#000"/>
<circle cx="1280.30" cy="88.3" r="2.3" fill="#000"/>
<circle cx="1266.00" cy="122.8" r="2.3" fill="#000"/>
<circle cx="1273.15" cy="122.8" r="2.3" fill="#000"/>
<circle cx="1280.30" cy="122.8" r="2.3" fill="#000"/>
<text x="1291.0" y="46.9" font-size="16.4" text-anchor="start" font-family="Liberation Sans, sans-serif" fill="#000" style="stroke-width:0.75px">Input</text>
<text x="1289.4" y="82.9" font-size="16.4" text-anchor="start" font-family="Liberation Sans, sans-serif" fill="#000" style="stroke-width:0.75px">Output</text>
<path d="M814.2,26.8 C810.8,27.2 810.2,29 810.2,32 L810.2,55.5 C810.2,58.6 810.8,60.4 814.2,60.8" fill="none" stroke="#111" stroke-width="1.4"/>
<text x="685.9" y="24.9" font-size="24.2" text-anchor="start" font-family="Liberation Sans, sans-serif" fill="#000" >(b)</text>
<text x="703.6" y="49.3" font-size="16.35" text-anchor="start" font-family="Liberation Sans, sans-serif" fill="#000" >Qubit channel</text>
<text x="705.6" y="94.4" font-size="16.35" text-anchor="start" font-family="Liberation Sans, sans-serif" fill="#000" >Memory clock</text>
<text x="690.8" y="126.8" font-size="16.35" text-anchor="start" font-family="Liberation Sans, sans-serif" fill="#000" >Control</text>
<path d="M820.30,94.9 L820.30,82.6 L834.76,82.6 L834.76,94.9 L849.22,94.9 L849.22,82.6 L863.68,82.6 L863.68,94.9 L878.14,94.9 L878.14,82.6 L892.60,82.6 L892.60,94.9 L907.06,94.9 L907.06,82.6 L921.52,82.6 L921.52,94.9 L935.98,94.9 L935.98,82.6 L950.44,82.6 L950.44,94.9 L964.90,94.9 L964.90,82.6 L979.36,82.6 L979.36,94.9 L993.82,94.9 L993.82,82.6 L1008.28,82.6 L1008.28,94.9 L1022.74,94.9 L1022.74,82.6 L1037.20,82.6 L1037.20,94.9 L1051.66,94.9 L1051.66,82.6 L1066.12,82.6 L1066.12,94.9 L1080.58,94.9 L1080.58,82.6 L1095.04,82.6 L1095.04,94.9 L1109.50,94.9 L1109.50,82.6 L1123.96,82.6 L1123.96,94.9 L1138.42,94.9 L1138.42,82.6 L1152.88,82.6 L1152.88,94.9 L1167.34,94.9 L1167.34,82.6 L1181.80,82.6 L1181.80,94.9 L1196.26,94.9 L1196.26,82.6 L1210.72,82.6 L1210.72,94.9 L1225.18,94.9 L1225.18,82.6 L1239.64,82.6 L1239.64,94.9 L1254.10,94.9" fill="none" stroke="#000" stroke-width="1.4"/>
<rect x="752.9" y="100.9" width="56.6" height="43.8" fill="#fff" stroke="#000" stroke-width="1.9"/>
<line x1="752.9" y1="122.7" x2="809.5" y2="122.7" stroke="#000" stroke-width="1.8"/>
<text x="781.3" y="118.5" font-size="14" text-anchor="middle" font-family="Liberation Sans, sans-serif" fill="#000" >W/R</text>
<text x="781" y="138.5" font-size="11.8" text-anchor="middle" font-family="Liberation Sans, sans-serif" fill="#000" >Cell index</text>
<rect x="820.70" y="100.6" width="29.60" height="43.20" fill="#a9d46c"/>
<rect x="850.30" y="100.6" width="29.40" height="43.20" fill="#a9d46c"/>
<rect x="879.70" y="100.6" width="28.10" height="43.20" fill="#3e81c2"/>
<rect x="907.80" y="100.6" width="28.10" height="43.20" fill="#a9d46c"/>
<rect x="935.90" y="100.6" width="28.80" height="43.20" fill="#a9d46c"/>
<rect x="964.70" y="100.6" width="29.10" height="43.20" fill="#a9d46c"/>
<rect x="993.80" y="100.6" width="29.40" height="43.20" fill="#3e81c2"/>
<rect x="1023.20" y="100.6" width="28.80" height="43.20" fill="#a9d46c"/>
<rect x="1052.00" y="100.6" width="28.20" height="44.40" fill="#3e81c2"/>
<rect x="1080.20" y="100.6" width="29.10" height="44.40" fill="#3e81c2"/>
<rect x="1109.30" y="100.6" width="28.70" height="43.20" fill="#a9d46c"/>
<rect x="1138.00" y="100.6" width="27.20" height="43.20" fill="#a9d46c"/>
<rect x="1165.20" y="100.6" width="27.70" height="43.20" fill="#3e81c2"/>
<rect x="1192.90" y="100.6" width="29.00" height="43.20" fill="#3e81c2"/>
<rect x="1221.90" y="100.6" width="28.20" height="43.20" fill="#3e81c2"/>
<line x1="820.70" y1="99.89999999999999" x2="820.70" y2="144.5" stroke="#000" stroke-width="1.6"/>
<line x1="850.30" y1="99.89999999999999" x2="850.30" y2="144.5" stroke="#000" stroke-width="1.6"/>
<line x1="879.70" y1="99.89999999999999" x2="879.70" y2="144.5" stroke="#000" stroke-width="1.6"/>
<line x1="907.80" y1="99.89999999999999" x2="907.80" y2="144.5" stroke="#000" stroke-width="1.6"/>
<line x1="935.90" y1="99.89999999999999" x2="935.90" y2="144.5" stroke="#000" stroke-width="1.6"/>
<line x1="964.70" y1="99.89999999999999" x2="964.70" y2="144.5" stroke="#000" stroke-width="1.6"/>
<line x1="993.80" y1="99.89999999999999" x2="993.80" y2="144.5" stroke="#000" stroke-width="1.6"/>
<line x1="1023.20" y1="99.89999999999999" x2="1023.20" y2="144.5" stroke="#000" stroke-width="1.6"/>
<line x1="1052.00" y1="99.89999999999999" x2="1052.00" y2="144.5" stroke="#000" stroke-width="1.6"/>
<line x1="1080.20" y1="99.89999999999999" x2="1080.20" y2="144.5" stroke="#000" stroke-width="1.6"/>
<line x1="1109.30" y1="99.89999999999999" x2="1109.30" y2="144.5" stroke="#000" stroke-width="1.6"/>
<line x1="1138.00" y1="99.89999999999999" x2="1138.00" y2="144.5" stroke="#000" stroke-width="1.6"/>
<line x1="1165.20" y1="99.89999999999999" x2="1165.20" y2="144.5" stroke="#000" stroke-width="1.6"/>
<line x1="1192.90" y1="99.89999999999999" x2="1192.90" y2="144.5" stroke="#000" stroke-width="1.6"/>
<line x1="1221.90" y1="99.89999999999999" x2="1221.90" y2="144.5" stroke="#000" stroke-width="1.6"/>
<line x1="1250.10" y1="99.89999999999999" x2="1250.10" y2="144.5" stroke="#000" stroke-width="1.6"/>
<line x1="819.95" y1="100.6" x2="1250.85" y2="100.6" stroke="#000" stroke-width="1.5"/>
<line x1="819.95" y1="122.4" x2="1250.85" y2="122.4" stroke="#000" stroke-width="1.4"/>
<line x1="819.95" y1="143.8" x2="1284" y2="144.10000000000002" stroke="#000" stroke-width="1.9"/>
<polygon points="1289.00,144.10 1282.60,146.90 1282.60,141.30" fill="#000"/>
<text x="835.50" y="118.8" font-size="16.3" text-anchor="middle" font-family="Liberation Sans, sans-serif" fill="#000" >W</text>
<text x="835.50" y="139.7" font-size="16" text-anchor="middle" font-family="Liberation Sans, sans-serif" fill="#000" >35</text>
<text x="865.00" y="118.8" font-size="16.3" text-anchor="middle" font-family="Liberation Sans, sans-serif" fill="#000" >W</text>
<text x="865.00" y="139.7" font-size="16" text-anchor="middle" font-family="Liberation Sans, sans-serif" fill="#000" >47</text>
<text x="893.75" y="118.8" font-size="16.3" text-anchor="middle" font-family="Liberation Sans, sans-serif" fill="#000" >R</text>
<text x="893.75" y="139.7" font-size="16" text-anchor="middle" font-family="Liberation Sans, sans-serif" fill="#000" >35</text>
<text x="921.85" y="118.8" font-size="16.3" text-anchor="middle" font-family="Liberation Sans, sans-serif" fill="#000" >W</text>
<text x="921.85" y="139.7" font-size="16" text-anchor="middle" font-family="Liberation Sans, sans-serif" fill="#000" >7</text>
<text x="950.30" y="118.8" font-size="16.3" text-anchor="middle" font-family="Liberation Sans, sans-serif" fill="#000" >W</text>
<text x="950.30" y="139.7" font-size="16" text-anchor="middle" font-family="Liberation Sans, sans-serif" fill="#000" >63</text>
<text x="979.25" y="118.8" font-size="16.3" text-anchor="middle" font-family="Liberation Sans, sans-serif" fill="#000" >W</text>
<text x="979.25" y="139.7" font-size="16" text-anchor="middle" font-family="Liberation Sans, sans-serif" fill="#000" >18</text>
<text x="1008.50" y="118.8" font-size="16.3" text-anchor="middle" font-family="Liberation Sans, sans-serif" fill="#000" >R</text>
<text x="1008.50" y="139.7" font-size="16" text-anchor="middle" font-family="Liberation Sans, sans-serif" fill="#000" >63</text>
<text x="1037.60" y="118.8" font-size="16.3" text-anchor="middle" font-family="Liberation Sans, sans-serif" fill="#000" >W</text>
<text x="1037.60" y="139.7" font-size="16" text-anchor="middle" font-family="Liberation Sans, sans-serif" fill="#000" >71</text>
<text x="1066.10" y="119.89999999999999" font-size="16.3" text-anchor="middle" font-family="Liberation Sans, sans-serif" fill="#000" >R</text>
<text x="1066.10" y="140.79999999999998" font-size="16" text-anchor="middle" font-family="Liberation Sans, sans-serif" fill="#000" >71</text>
<text x="1094.75" y="119.89999999999999" font-size="16.3" text-anchor="middle" font-family="Liberation Sans, sans-serif" fill="#000" >R</text>
<text x="1094.75" y="140.79999999999998" font-size="16" text-anchor="middle" font-family="Liberation Sans, sans-serif" fill="#000" >7</text>
<text x="1123.65" y="118.8" font-size="16.3" text-anchor="middle" font-family="Liberation Sans, sans-serif" fill="#000" >W</text>
<text x="1123.65" y="139.7" font-size="16" text-anchor="middle" font-family="Liberation Sans, sans-serif" fill="#000" >26</text>
<text x="1151.60" y="118.8" font-size="16.3" text-anchor="middle" font-family="Liberation Sans, sans-serif" fill="#000" >W</text>
<text x="1151.60" y="139.7" font-size="16" text-anchor="middle" font-family="Liberation Sans, sans-serif" fill="#000" >63</text>
<text x="1179.05" y="118.8" font-size="16.3" text-anchor="middle" font-family="Liberation Sans, sans-serif" fill="#000" >R</text>
<text x="1179.05" y="139.7" font-size="16" text-anchor="middle" font-family="Liberation Sans, sans-serif" fill="#000" >26</text>
<text x="1207.40" y="118.8" font-size="16.3" text-anchor="middle" font-family="Liberation Sans, sans-serif" fill="#000" >R</text>
<text x="1207.40" y="139.7" font-size="16" text-anchor="middle" font-family="Liberation Sans, sans-serif" fill="#000" >47</text>
<text x="1236.00" y="118.8" font-size="16.3" text-anchor="middle" font-family="Liberation Sans, sans-serif" fill="#000" >R</text>
<text x="1236.00" y="139.7" font-size="16" text-anchor="middle" font-family="Liberation Sans, sans-serif" fill="#000" >63</text>
<line x1="1086" y1="146.3" x2="1103.7" y2="146.3" stroke="#3e81c2" stroke-width="1.2"/>
<text x="1292.6" y="127.8" font-size="14.8" text-anchor="start" font-family="Liberation Serif, serif" fill="#000" letter-spacing="0.25" style="stroke-width:0.12px">500<tspan font-style="italic">μs</tspan></text>
<text x="1295.4" y="152.0" font-size="16.2" text-anchor="start" font-family="Liberation Sans, sans-serif" fill="#000" >Time</text>
<line x1="820.5" y1="144.5" x2="820.5" y2="176" stroke="#000" stroke-width="0.8" stroke-dasharray="1,1.2"/>
<line x1="850.2" y1="144.5" x2="850.2" y2="176" stroke="#000" stroke-width="0.8" stroke-dasharray="1,1.2"/>
<line x1="823.20" y1="160.40" x2="847.50" y2="160.40" stroke="#4b5218" stroke-width="1.3"/><polygon points="849.50,160.40 845.50,162.30 845.50,158.50" fill="#4b5218"/><polygon points="821.20,160.40 825.20,158.50 825.20,162.30" fill="#4b5218"/>
<text x="835.6" y="174.2" font-size="14.8" text-anchor="middle" font-family="Liberation Serif, serif" fill="#000" letter-spacing="0.25" style="stroke-width:0.12px">2<tspan font-style="italic">μs</tspan></text>
<!-- panel c -->
<rect x="922" y="177.3" width="176.1" height="100.2" fill="#ececec" stroke="#000" stroke-width="2.3"/>
<line x1="821" y1="245.8" x2="1285" y2="245.8" stroke="#000" stroke-width="1.9"/>
<polygon points="1290.20,245.80 1284.00,248.50 1284.00,243.10" fill="#000"/>
<rect x="821.5" y="202.1" width="28.60" height="43.70" fill="#a9d46c"/>
<rect x="850.1" y="202.1" width="28.60" height="43.70" fill="#a9d46c"/>
<line x1="821.5" y1="201.25" x2="821.5" y2="246.65" stroke="#000" stroke-width="1.75"/>
<line x1="850.1" y1="201.25" x2="850.1" y2="246.65" stroke="#000" stroke-width="1.75"/>
<line x1="878.7" y1="201.25" x2="878.7" y2="246.65" stroke="#000" stroke-width="1.75"/>
<line x1="820.65" y1="202.1" x2="879.5500000000001" y2="202.1" stroke="#000" stroke-width="1.75"/>
<line x1="820.65" y1="223.7" x2="879.5500000000001" y2="223.7" stroke="#000" stroke-width="1.6"/>
<text x="835.80" y="218.8" font-size="16.4" text-anchor="middle" font-family="Liberation Sans, sans-serif" fill="#000" >W</text>
<text x="835.80" y="241.0" font-size="16" text-anchor="middle" font-family="Liberation Sans, sans-serif" fill="#000" >57</text>
<text x="864.40" y="218.8" font-size="16.4" text-anchor="middle" font-family="Liberation Sans, sans-serif" fill="#000" >W</text>
<text x="864.40" y="241.0" font-size="16" text-anchor="middle" font-family="Liberation Sans, sans-serif" fill="#000" >39</text>
<rect x="907.9" y="202.1" width="28.60" height="43.70" fill="#a9d46c"/>
<rect x="936.5" y="202.1" width="28.60" height="43.70" fill="#3e81c2"/>
<rect x="965.1" y="202.1" width="28.90" height="43.70" fill="#a9d46c"/>
<line x1="907.9" y1="201.25" x2="907.9" y2="246.65" stroke="#000" stroke-width="1.75"/>
<line x1="936.5" y1="201.25" x2="936.5" y2="246.65" stroke="#000" stroke-width="1.75"/>
<line x1="965.1" y1="201.25" x2="965.1" y2="246.65" stroke="#000" stroke-width="1.75"/>
<line x1="994.0" y1="201.25" x2="994.0" y2="246.65" stroke="#000" stroke-width="1.75"/>
<line x1="907.05" y1="202.1" x2="994.85" y2="202.1" stroke="#000" stroke-width="1.75"/>
<line x1="907.05" y1="223.7" x2="994.85" y2="223.7" stroke="#000" stroke-width="1.6"/>
<text x="922.20" y="218.8" font-size="16.4" text-anchor="middle" font-family="Liberation Sans, sans-serif" fill="#000" >W</text>
<text x="922.20" y="241.0" font-size="16" text-anchor="middle" font-family="Liberation Sans, sans-serif" fill="#000" >50</text>
<text x="950.80" y="218.8" font-size="16.4" text-anchor="middle" font-family="Liberation Sans, sans-serif" fill="#000" >R</text>
<text x="950.80" y="241.0" font-size="16" text-anchor="middle" font-family="Liberation Sans, sans-serif" fill="#000" >56</text>
<text x="979.55" y="218.8" font-size="16.4" text-anchor="middle" font-family="Liberation Sans, sans-serif" fill="#000" >W</text>
<text x="979.55" y="241.0" font-size="16" text-anchor="middle" font-family="Liberation Sans, sans-serif" fill="#000" >27</text>
<rect x="1022.6" y="202.1" width="28.60" height="43.70" fill="#a9d46c"/>
<rect x="1051.2" y="202.1" width="29.00" height="43.70" fill="#3e81c2"/>
<rect x="1080.2" y="202.1" width="28.80" height="43.70" fill="#3e81c2"/>
<line x1="1022.6" y1="201.25" x2="1022.6" y2="246.65" stroke="#000" stroke-width="1.75"/>
<line x1="1051.2" y1="201.25" x2="1051.2" y2="246.65" stroke="#000" stroke-width="1.75"/>
<line x1="1080.2" y1="201.25" x2="1080.2" y2="246.65" stroke="#000" stroke-width="1.75"/>
<line x1="1109.0" y1="201.25" x2="1109.0" y2="246.65" stroke="#000" stroke-width="1.75"/>
<line x1="1021.75" y1="202.1" x2="1109.85" y2="202.1" stroke="#000" stroke-width="1.75"/>
<line x1="1021.75" y1="223.7" x2="1109.85" y2="223.7" stroke="#000" stroke-width="1.6"/>
<text x="1036.90" y="218.8" font-size="16.4" text-anchor="middle" font-family="Liberation Sans, sans-serif" fill="#000" >W</text>
<text x="1036.90" y="241.0" font-size="16" text-anchor="middle" font-family="Liberation Sans, sans-serif" fill="#000" >24</text>
<text x="1065.70" y="218.8" font-size="16.4" text-anchor="middle" font-family="Liberation Sans, sans-serif" fill="#000" >R</text>
<text x="1065.70" y="241.0" font-size="16" text-anchor="middle" font-family="Liberation Sans, sans-serif" fill="#000" >63</text>
<text x="1094.60" y="218.8" font-size="16.4" text-anchor="middle" font-family="Liberation Sans, sans-serif" fill="#000" >R</text>
<text x="1094.60" y="241.0" font-size="16" text-anchor="middle" font-family="Liberation Sans, sans-serif" fill="#000" >50</text>
<rect x="1138.3" y="202.1" width="28.70" height="43.70" fill="#a9d46c"/>
<rect x="1167.0" y="202.1" width="28.30" height="43.70" fill="#3e81c2"/>
<rect x="1195.3" y="202.1" width="25.90" height="43.70" fill="#3e81c2"/>
<rect x="1221.2" y="202.1" width="26.00" height="43.70" fill="#3e81c2"/>
<line x1="1138.3" y1="201.25" x2="1138.3" y2="246.65" stroke="#000" stroke-width="1.75"/>
<line x1="1167.0" y1="201.25" x2="1167.0" y2="246.65" stroke="#000" stroke-width="1.75"/>
<line x1="1195.3" y1="201.25" x2="1195.3" y2="246.65" stroke="#000" stroke-width="1.75"/>
<line x1="1221.2" y1="201.25" x2="1221.2" y2="246.65" stroke="#000" stroke-width="1.75"/>
<line x1="1247.2" y1="201.25" x2="1247.2" y2="246.65" stroke="#000" stroke-width="1.75"/>
<line x1="1137.45" y1="202.1" x2="1248.05" y2="202.1" stroke="#000" stroke-width="1.75"/>
<line x1="1137.45" y1="223.7" x2="1248.05" y2="223.7" stroke="#000" stroke-width="1.6"/>
<text x="1152.65" y="218.8" font-size="16.4" text-anchor="middle" font-family="Liberation Sans, sans-serif" fill="#000" >W</text>
<text x="1152.65" y="241.0" font-size="16" text-anchor="middle" font-family="Liberation Sans, sans-serif" fill="#000" >70</text>
<text x="1181.15" y="218.8" font-size="16.4" text-anchor="middle" font-family="Liberation Sans, sans-serif" fill="#000" >R</text>
<text x="1181.15" y="241.0" font-size="16" text-anchor="middle" font-family="Liberation Sans, sans-serif" fill="#000" >70</text>
<text x="1208.25" y="218.8" font-size="16.4" text-anchor="middle" font-family="Liberation Sans, sans-serif" fill="#000" >R</text>
<text x="1208.25" y="241.0" font-size="16" text-anchor="middle" font-family="Liberation Sans, sans-serif" fill="#000" >66</text>
<text x="1234.20" y="218.8" font-size="16.4" text-anchor="middle" font-family="Liberation Sans, sans-serif" fill="#000" >R</text>
<text x="1234.20" y="241.0" font-size="16" text-anchor="middle" font-family="Liberation Sans, sans-serif" fill="#000" >49</text>
<circle cx="885.40" cy="223.8" r="2.3" fill="#000"/>
<circle cx="892.55" cy="223.8" r="2.3" fill="#000"/>
<circle cx="899.70" cy="223.8" r="2.3" fill="#000"/>
<circle cx="1000.60" cy="223.8" r="2.3" fill="#000"/>
<circle cx="1007.75" cy="223.8" r="2.3" fill="#000"/>
<circle cx="1014.90" cy="223.8" r="2.3" fill="#000"/>
<circle cx="1116.00" cy="223.8" r="2.3" fill="#000"/>
<circle cx="1123.15" cy="223.8" r="2.3" fill="#000"/>
<circle cx="1130.30" cy="223.8" r="2.3" fill="#000"/>
<circle cx="1264.00" cy="223.8" r="2.3" fill="#000"/>
<circle cx="1271.15" cy="223.8" r="2.3" fill="#000"/>
<circle cx="1278.30" cy="223.8" r="2.3" fill="#000"/>
<rect x="753.4" y="201.4" width="57" height="44.2" fill="#fff" stroke="#000" stroke-width="1.9"/>
<line x1="753.4" y1="223.4" x2="810.4" y2="223.4" stroke="#000" stroke-width="1.8"/>
<text x="784" y="219.0" font-size="14" text-anchor="middle" font-family="Liberation Sans, sans-serif" fill="#000" >W/R</text>
<text x="781.6" y="238.9" font-size="11.8" text-anchor="middle" font-family="Liberation Sans, sans-serif" fill="#000" >Cell index</text>
<text x="684.8" y="189.9" font-size="24.0" text-anchor="start" font-family="Liberation Sans, sans-serif" fill="#000" >(c)</text>
<text x="689.9" y="229.5" font-size="16.35" text-anchor="start" font-family="Liberation Sans, sans-serif" fill="#000" >Control</text>
<text x="948.5" y="193.7" font-size="16.5" text-anchor="start" font-family="Liberation Sans, sans-serif" fill="#000" >Forced read-out</text>
<line x1="1068" y1="190.9" x2="1089.4" y2="198.6" stroke="#111" stroke-width="0.8"/>
<text x="946.3" y="268.6" font-size="16.55" text-anchor="start" font-family="Liberation Sans, sans-serif" fill="#000" >Scrolling window</text>
<polygon points="1076.3,257.6 1106.3,257.6 1106.3,252.6 1115.9,262 1106.3,271.3 1106.3,266.6 1076.3,266.6" fill="#0b6b3f"/>
<text x="995.7" y="293.8" font-size="14.8" text-anchor="start" font-family="Liberation Serif, serif" fill="#000" letter-spacing="0.25" style="stroke-width:0.12px">500<tspan font-style="italic">μs</tspan></text>
<text x="1300.2" y="227.8" font-size="14.8" text-anchor="start" font-family="Liberation Serif, serif" fill="#000" letter-spacing="0.25" style="stroke-width:0.12px"><tspan font-style="italic">2ms</tspan></text>
<text x="1294" y="253.6" font-size="16.4" text-anchor="start" font-family="Liberation Sans, sans-serif" fill="#000" >Time</text>
<!-- panel d -->
<polygon points="76.7,469.3 76.3,469.3 77.9,467.7 79.9,462.7 81.2,459.4 82.4,460.2 84.9,452.8 86.0,450.3 88.2,447.9 89.5,449.2 90.7,452.0 92.3,450.3 94.0,444.5 95.6,440.4 97.3,443.7 98.9,439.6 100.9,434.6 102.6,439.6 103.9,442.9 105.5,437.1 106.7,433.8 108.3,432.6 109.7,434.3 110.5,435.5 112.1,430.5 113.8,425.5 115.5,427.2 117.6,427.7 119.6,432.1 121.2,433.8 122.9,433.3 125.4,438.8 127.0,435.5 128.7,434.3 130.3,429.7 132.0,427.2 132.8,428.0 135.0,419.8 136.9,425.5 138.6,431.3 140.7,438.4 142.2,435.5 143.6,433.3 146.0,438.8 148.5,433.8 151.0,430.5 152.6,429.3 154.3,427.7 156.0,431.3 157.6,427.2 158.4,428.3 160.1,424.7 161.7,425.0 163.4,423.9 165.0,418.9 166.7,414.0 169.2,410.7 171.2,408.5 172.8,409.0 175.0,403.2 176.6,397.4 178.3,395.8 179.4,393.6 180.0,394.3 181.7,395.5 184.1,399.3 185.8,394.6 187.4,389.7 189.1,388.0 190.7,386.0 191.9,385.5 193.2,380.6 194.9,376.1 196.5,379.8 197.9,379.4 199.5,382.7 201.5,378.1 203.5,377.8 204.8,380.1 206.1,380.2 207.8,383.1 209.4,386.4 211.1,386.0 212.6,383.6 213.9,386.4 215.9,393.3 217.7,387.2 219.3,383.6 220.8,386.7 222.5,383.9 224.3,383.9 226.0,387.2 227.9,391.3 229.6,389.3 231.2,388.5 232.9,386.4 234.9,391.3 237.0,386.7 238.7,389.7 240.3,392.1 242.0,393.3 244.0,397.9 245.3,394.6 246.6,392.1 248.3,394.6 249.9,396.3 251.6,391.3 253.1,386.7 254.7,389.7 256.0,386.7 257.7,387.2 259.7,383.6 261.3,388.0 263.5,395.0 265.1,392.1 266.8,387.7 268.4,388.8 270.1,386.7 271.4,383.6 273.4,387.2 275.0,385.5 276.7,383.9 277.9,382.2 279.2,380.6 281.2,379.4 282.8,382.7 285.0,382.2 286.6,378.1 288.3,376.4 289.9,374.5 291.6,374.0 293.2,373.1 294.4,370.7 294.5,469.3" fill="#f8e1e2"/>
<polyline points="76.3,469.3 77.9,467.7 79.9,462.7 81.2,459.4 82.4,460.2 84.9,452.8 86.0,450.3 88.2,447.9 89.5,449.2 90.7,452.0 92.3,450.3 94.0,444.5 95.6,440.4 97.3,443.7 98.9,439.6 100.9,434.6 102.6,439.6 103.9,442.9 105.5,437.1 106.7,433.8 108.3,432.6 109.7,434.3 110.5,435.5 112.1,430.5 113.8,425.5 115.5,427.2 117.6,427.7 119.6,432.1 121.2,433.8 122.9,433.3 125.4,438.8 127.0,435.5 128.7,434.3 130.3,429.7 132.0,427.2 132.8,428.0 135.0,419.8 136.9,425.5 138.6,431.3 140.7,438.4 142.2,435.5 143.6,433.3 146.0,438.8 148.5,433.8 151.0,430.5 152.6,429.3 154.3,427.7 156.0,431.3 157.6,427.2 158.4,428.3 160.1,424.7 161.7,425.0 163.4,423.9 165.0,418.9 166.7,414.0 169.2,410.7 171.2,408.5 172.8,409.0 175.0,403.2 176.6,397.4 178.3,395.8 179.4,393.6 180.0,394.3 181.7,395.5 184.1,399.3 185.8,394.6 187.4,389.7 189.1,388.0 190.7,386.0 191.9,385.5 193.2,380.6 194.9,376.1 196.5,379.8 197.9,379.4 199.5,382.7 201.5,378.1 203.5,377.8 204.8,380.1 206.1,380.2 207.8,383.1 209.4,386.4 211.1,386.0 212.6,383.6 213.9,386.4 215.9,393.3 217.7,387.2 219.3,383.6 220.8,386.7 222.5,383.9 224.3,383.9 226.0,387.2 227.9,391.3 229.6,389.3 231.2,388.5 232.9,386.4 234.9,391.3 237.0,386.7 238.7,389.7 240.3,392.1 242.0,393.3 244.0,397.9 245.3,394.6 246.6,392.1 248.3,394.6 249.9,396.3 251.6,391.3 253.1,386.7 254.7,389.7 256.0,386.7 257.7,387.2 259.7,383.6 261.3,388.0 263.5,395.0 265.1,392.1 266.8,387.7 268.4,388.8 270.1,386.7 271.4,383.6 273.4,387.2 275.0,385.5 276.7,383.9 277.9,382.2 279.2,380.6 281.2,379.4 282.8,382.7 285.0,382.2 286.6,378.1 288.3,376.4 289.9,374.5 291.6,374.0 293.2,373.1 294.4,370.7" fill="none" stroke="#a31621" stroke-width="1.5" stroke-linejoin="round"/>
<rect x="76.7" y="323.3" width="217.80" height="146.00" fill="none" stroke="#222" stroke-width="1.0"/>
<line x1="76.70" y1="469.30" x2="78.90" y2="469.30" stroke="#222" stroke-width="0.9"/>
<text x="73.10000000000001" y="473.9" font-size="13.5" text-anchor="end" font-family="Liberation Sans, sans-serif" fill="#000" >0</text>
<line x1="76.70" y1="440.10" x2="78.90" y2="440.10" stroke="#222" stroke-width="0.9"/>
<text x="73.10000000000001" y="444.7" font-size="13.5" text-anchor="end" font-family="Liberation Sans, sans-serif" fill="#000" >10</text>
<line x1="76.70" y1="410.90" x2="78.90" y2="410.90" stroke="#222" stroke-width="0.9"/>
<text x="73.10000000000001" y="415.5" font-size="13.5" text-anchor="end" font-family="Liberation Sans, sans-serif" fill="#000" >20</text>
<line x1="76.70" y1="381.70" x2="78.90" y2="381.70" stroke="#222" stroke-width="0.9"/>
<text x="73.10000000000001" y="386.3" font-size="13.5" text-anchor="end" font-family="Liberation Sans, sans-serif" fill="#000" >30</text>
<line x1="76.70" y1="352.50" x2="78.90" y2="352.50" stroke="#222" stroke-width="0.9"/>
<text x="73.10000000000001" y="357.1" font-size="13.5" text-anchor="end" font-family="Liberation Sans, sans-serif" fill="#000" >40</text>
<line x1="76.70" y1="323.30" x2="78.90" y2="323.30" stroke="#222" stroke-width="0.9"/>
<text x="73.10000000000001" y="327.9" font-size="13.5" text-anchor="end" font-family="Liberation Sans, sans-serif" fill="#000" >50</text>
<line x1="76.70" y1="469.30" x2="76.70" y2="467.10" stroke="#222" stroke-width="0.9"/>
<text x="76.7" y="483.4" font-size="13.5" text-anchor="middle" font-family="Liberation Sans, sans-serif" fill="#000" >0</text>
<line x1="120.26" y1="469.30" x2="120.26" y2="467.10" stroke="#222" stroke-width="0.9"/>
<text x="120.3" y="483.4" font-size="13.5" text-anchor="middle" font-family="Liberation Sans, sans-serif" fill="#000" >50</text>
<line x1="163.82" y1="469.30" x2="163.82" y2="467.10" stroke="#222" stroke-width="0.9"/>
<text x="163.8" y="483.4" font-size="13.5" text-anchor="middle" font-family="Liberation Sans, sans-serif" fill="#000" >100</text>
<line x1="207.38" y1="469.30" x2="207.38" y2="467.10" stroke="#222" stroke-width="0.9"/>
<text x="207.4" y="483.4" font-size="13.5" text-anchor="middle" font-family="Liberation Sans, sans-serif" fill="#000" >150</text>
<line x1="250.94" y1="469.30" x2="250.94" y2="467.10" stroke="#222" stroke-width="0.9"/>
<text x="250.9" y="483.4" font-size="13.5" text-anchor="middle" font-family="Liberation Sans, sans-serif" fill="#000" >200</text>
<line x1="294.50" y1="469.30" x2="294.50" y2="467.10" stroke="#222" stroke-width="0.9"/>
<text x="294.5" y="483.4" font-size="13.5" text-anchor="middle" font-family="Liberation Sans, sans-serif" fill="#000" >250</text>
<text x="17.7" y="326.6" font-size="24" text-anchor="start" font-family="Liberation Sans, sans-serif" fill="#000" >(d)</text>
<text x="174.2" y="499.6" font-size="15.2" text-anchor="middle" font-family="Liberation Sans, sans-serif" fill="#000" >Clock cycle</text>
<text transform="translate(47.0,397.5) rotate(-90)" font-size="15.2" text-anchor="middle" font-family="Liberation Sans, sans-serif" fill="#000">Filling number</text>
<!-- panel e -->
<polygon points="348.8,469.0 348.7,469.3 350.4,457.6 351.8,467.8 353.3,463.4 354.2,468.3 355.7,459.5 356.7,457.1 358.1,444.5 359.6,431.8 361.5,417.7 362.9,418.6 364.0,411.1 365.7,402.9 366.5,401.2 367.8,391.3 369.0,404.5 370.6,395.4 371.8,406.2 373.4,412.8 375.2,405.3 376.7,411.1 377.7,401.2 378.9,397.9 380.5,397.1 381.7,388.0 382.7,378.1 384.3,386.3 385.5,383.8 387.1,379.7 388.3,392.9 390.0,388.0 391.3,384.7 392.9,374.8 394.1,381.4 395.1,374.4 396.2,384.7 397.6,391.3 398.7,396.2 400.0,389.6 401.2,392.1 402.5,381.4 403.8,372.3 405.3,378.1 406.5,384.7 407.5,388.0 408.6,380.5 409.8,384.7 411.1,380.5 412.3,375.6 413.3,384.7 414.4,390.5 415.7,378.1 416.9,387.1 418.6,379.7 419.7,374.8 421.0,369.8 422.0,359.5 423.0,366.5 424.0,373.1 425.2,369.8 426.3,377.2 427.6,383.8 429.0,377.2 430.1,386.3 431.3,392.9 432.3,402.9 433.4,400.4 434.6,404.5 435.6,402.0 436.7,408.6 437.6,414.4 438.6,421.9 439.5,411.1 440.9,409.5 442.5,399.5 443.8,394.6 445.0,400.4 446.7,392.1 447.8,397.9 448.8,400.4 450.5,391.3 451.9,381.4 453.3,388.8 454.4,383.0 455.4,389.6 456.6,387.1 458.6,383.8 459.9,392.1 461.5,392.9 462.7,400.4 464.0,396.2 465.0,401.2 465.2,406.4 466.2,415.5 467.4,423.0 468.5,438.7 469.8,432.9 471.2,424.6 472.3,418.0 473.5,413.9 474.5,418.0 475.6,411.4 476.8,407.3 477.8,411.4 478.9,404.8 480.1,401.5 481.4,405.6 482.6,401.5 483.9,408.9 485.0,411.4 486.0,417.2 487.2,411.4 488.0,407.3 489.3,411.4 490.2,417.2 491.3,408.1 492.6,396.5 493.8,386.6 495.0,382.5 495.5,376.2 497.1,369.6 498.8,369.3 500.0,379.5 501.3,387.0 502.6,397.7 503.8,389.5 505.1,394.4 506.2,390.3 507.6,397.7 508.7,391.1 510.0,383.7 511.2,378.7 512.5,387.0 513.7,391.1 514.8,398.6 516.2,387.8 517.8,378.7 518.6,389.5 519.8,396.9 521.1,391.9 521.9,387.8 523.1,391.1 524.1,380.4 525.2,387.0 526.4,387.8 527.7,392.8 528.6,397.7 529.7,394.4 531.0,407.6 532.7,401.9 534.0,404.3 535.2,398.6 536.3,406.0 537.6,399.4 539.3,396.1 540.6,386.2 541.8,376.2 542.6,382.9 543.4,375.4 545.1,368.0 546.2,360.5 547.2,368.0 548.4,371.3 549.5,364.7 550.9,358.9 551.7,355.6 552.5,362.2 553.5,354.8 554.5,347.3 555.5,356.4 556.7,368.8 557.8,359.7 558.8,362.2 560.0,353.9 561.1,361.4 562.4,357.2 563.8,350.6 564.9,345.7 565.7,342.4 566.6,344.8 567.6,339.0 567.7,469.0" fill="#dfe3fc"/>
<polyline points="348.7,469.3 350.4,457.6 351.8,467.8 353.3,463.4 354.2,468.3 355.7,459.5 356.7,457.1 358.1,444.5 359.6,431.8 361.5,417.7 362.9,418.6 364.0,411.1 365.7,402.9 366.5,401.2 367.8,391.3 369.0,404.5 370.6,395.4 371.8,406.2 373.4,412.8 375.2,405.3 376.7,411.1 377.7,401.2 378.9,397.9 380.5,397.1 381.7,388.0 382.7,378.1 384.3,386.3 385.5,383.8 387.1,379.7 388.3,392.9 390.0,388.0 391.3,384.7 392.9,374.8 394.1,381.4 395.1,374.4 396.2,384.7 397.6,391.3 398.7,396.2 400.0,389.6 401.2,392.1 402.5,381.4 403.8,372.3 405.3,378.1 406.5,384.7 407.5,388.0 408.6,380.5 409.8,384.7 411.1,380.5 412.3,375.6 413.3,384.7 414.4,390.5 415.7,378.1 416.9,387.1 418.6,379.7 419.7,374.8 421.0,369.8 422.0,359.5 423.0,366.5 424.0,373.1 425.2,369.8 426.3,377.2 427.6,383.8 429.0,377.2 430.1,386.3 431.3,392.9 432.3,402.9 433.4,400.4 434.6,404.5 435.6,402.0 436.7,408.6 437.6,414.4 438.6,421.9 439.5,411.1 440.9,409.5 442.5,399.5 443.8,394.6 445.0,400.4 446.7,392.1 447.8,397.9 448.8,400.4 450.5,391.3 451.9,381.4 453.3,388.8 454.4,383.0 455.4,389.6 456.6,387.1 458.6,383.8 459.9,392.1 461.5,392.9 462.7,400.4 464.0,396.2 465.0,401.2 465.2,406.4 466.2,415.5 467.4,423.0 468.5,438.7 469.8,432.9 471.2,424.6 472.3,418.0 473.5,413.9 474.5,418.0 475.6,411.4 476.8,407.3 477.8,411.4 478.9,404.8 480.1,401.5 481.4,405.6 482.6,401.5 483.9,408.9 485.0,411.4 486.0,417.2 487.2,411.4 488.0,407.3 489.3,411.4 490.2,417.2 491.3,408.1 492.6,396.5 493.8,386.6 495.0,382.5 495.5,376.2 497.1,369.6 498.8,369.3 500.0,379.5 501.3,387.0 502.6,397.7 503.8,389.5 505.1,394.4 506.2,390.3 507.6,397.7 508.7,391.1 510.0,383.7 511.2,378.7 512.5,387.0 513.7,391.1 514.8,398.6 516.2,387.8 517.8,378.7 518.6,389.5 519.8,396.9 521.1,391.9 521.9,387.8 523.1,391.1 524.1,380.4 525.2,387.0 526.4,387.8 527.7,392.8 528.6,397.7 529.7,394.4 531.0,407.6 532.7,401.9 534.0,404.3 535.2,398.6 536.3,406.0 537.6,399.4 539.3,396.1 540.6,386.2 541.8,376.2 542.6,382.9 543.4,375.4 545.1,368.0 546.2,360.5 547.2,368.0 548.4,371.3 549.5,364.7 550.9,358.9 551.7,355.6 552.5,362.2 553.5,354.8 554.5,347.3 555.5,356.4 556.7,368.8 557.8,359.7 558.8,362.2 560.0,353.9 561.1,361.4 562.4,357.2 563.8,350.6 564.9,345.7 565.7,342.4 566.6,344.8 567.6,339.0" fill="none" stroke="#1747c9" stroke-width="1.35" stroke-linejoin="round"/>
<rect x="348.8" y="322.3" width="218.90" height="146.70" fill="none" stroke="#222" stroke-width="1.0"/>
<line x1="348.80" y1="469.00" x2="351.00" y2="469.00" stroke="#222" stroke-width="0.9"/>
<text x="345.2" y="475.0" font-size="13.5" text-anchor="end" font-family="Liberation Sans, sans-serif" fill="#000" >0</text>
<line x1="348.80" y1="439.66" x2="351.00" y2="439.66" stroke="#222" stroke-width="0.9"/>
<text x="345.2" y="445.7" font-size="13.5" text-anchor="end" font-family="Liberation Sans, sans-serif" fill="#000" >10</text>
<line x1="348.80" y1="410.32" x2="351.00" y2="410.32" stroke="#222" stroke-width="0.9"/>
<text x="345.2" y="416.3" font-size="13.5" text-anchor="end" font-family="Liberation Sans, sans-serif" fill="#000" >20</text>
<line x1="348.80" y1="380.98" x2="351.00" y2="380.98" stroke="#222" stroke-width="0.9"/>
<text x="345.2" y="387.0" font-size="13.5" text-anchor="end" font-family="Liberation Sans, sans-serif" fill="#000" >30</text>
<line x1="348.80" y1="351.64" x2="351.00" y2="351.64" stroke="#222" stroke-width="0.9"/>
<text x="345.2" y="357.6" font-size="13.5" text-anchor="end" font-family="Liberation Sans, sans-serif" fill="#000" >40</text>
<line x1="348.80" y1="322.30" x2="351.00" y2="322.30" stroke="#222" stroke-width="0.9"/>
<text x="345.2" y="328.3" font-size="13.5" text-anchor="end" font-family="Liberation Sans, sans-serif" fill="#000" >50</text>
<line x1="348.80" y1="469.00" x2="348.80" y2="466.80" stroke="#222" stroke-width="0.9"/>
<text x="350.3" y="483.1" font-size="13.5" text-anchor="middle" font-family="Liberation Sans, sans-serif" fill="#000" >0</text>
<line x1="392.58" y1="469.00" x2="392.58" y2="466.80" stroke="#222" stroke-width="0.9"/>
<text x="392.6" y="483.1" font-size="13.5" text-anchor="middle" font-family="Liberation Sans, sans-serif" fill="#000" >200</text>
<line x1="436.36" y1="469.00" x2="436.36" y2="466.80" stroke="#222" stroke-width="0.9"/>
<text x="436.4" y="483.1" font-size="13.5" text-anchor="middle" font-family="Liberation Sans, sans-serif" fill="#000" >400</text>
<line x1="480.14" y1="469.00" x2="480.14" y2="466.80" stroke="#222" stroke-width="0.9"/>
<text x="480.1" y="483.1" font-size="13.5" text-anchor="middle" font-family="Liberation Sans, sans-serif" fill="#000" >600</text>
<line x1="523.92" y1="469.00" x2="523.92" y2="466.80" stroke="#222" stroke-width="0.9"/>
<text x="523.9" y="483.1" font-size="13.5" text-anchor="middle" font-family="Liberation Sans, sans-serif" fill="#000" >800</text>
<line x1="567.70" y1="469.00" x2="567.70" y2="466.80" stroke="#222" stroke-width="0.9"/>
<text x="567.7" y="483.1" font-size="13.5" text-anchor="middle" font-family="Liberation Sans, sans-serif" fill="#000" >1000</text>
<text x="298.7" y="325.6" font-size="24" text-anchor="start" font-family="Liberation Sans, sans-serif" fill="#000" >(e)</text>
<text x="454.4" y="499.6" font-size="15.2" text-anchor="middle" font-family="Liberation Sans, sans-serif" fill="#000" >Clock cycle</text>
<text transform="translate(321.2,392.2) rotate(-90)" font-size="15.2" text-anchor="middle" font-family="Liberation Sans, sans-serif" fill="#000">Filling number</text>
<!-- panel f -->
<rect x="603.30" y="317.50" width="14.25" height="14.00" fill="rgb(250,218,220)"/>
<rect x="617.25" y="317.50" width="14.25" height="14.00" fill="rgb(248,199,202)"/>
<rect x="631.20" y="317.50" width="14.25" height="14.00" fill="rgb(241,138,144)"/>
<rect x="645.15" y="317.50" width="14.25" height="14.00" fill="rgb(236,102,108)"/>
<rect x="659.10" y="317.50" width="14.25" height="14.00" fill="rgb(254,240,240)"/>
<rect x="673.05" y="317.50" width="14.25" height="14.00" fill="rgb(244,164,169)"/>
<rect x="687.00" y="317.50" width="14.25" height="14.00" fill="rgb(250,218,220)"/>
<rect x="700.95" y="317.50" width="14.25" height="14.00" fill="rgb(250,218,220)"/>
<rect x="714.90" y="317.50" width="14.25" height="14.00" fill="rgb(248,199,202)"/>
<rect x="728.85" y="317.50" width="14.25" height="14.00" fill="rgb(248,199,202)"/>
<rect x="742.80" y="317.50" width="14.25" height="14.00" fill="rgb(250,218,220)"/>
<rect x="756.75" y="317.50" width="14.25" height="14.00" fill="rgb(254,240,240)"/>
<rect x="603.30" y="331.20" width="14.25" height="14.00" fill="rgb(244,164,169)"/>
<rect x="617.25" y="331.20" width="14.25" height="14.00" fill="rgb(236,102,108)"/>
<rect x="631.20" y="331.20" width="14.25" height="14.00" fill="rgb(248,199,202)"/>
<rect x="645.15" y="331.20" width="14.25" height="14.00" fill="rgb(236,102,108)"/>
<rect x="659.10" y="331.20" width="14.25" height="14.00" fill="rgb(252,232,233)"/>
<rect x="673.05" y="331.20" width="14.25" height="14.00" fill="rgb(236,102,108)"/>
<rect x="687.00" y="331.20" width="14.25" height="14.00" fill="rgb(239,124,130)"/>
<rect x="700.95" y="331.20" width="14.25" height="14.00" fill="rgb(236,102,108)"/>
<rect x="714.90" y="331.20" width="14.25" height="14.00" fill="rgb(239,124,130)"/>
<rect x="728.85" y="331.20" width="14.25" height="14.00" fill="rgb(250,218,220)"/>
<rect x="742.80" y="331.20" width="14.25" height="14.00" fill="rgb(244,164,169)"/>
<rect x="756.75" y="331.20" width="14.25" height="14.00" fill="rgb(236,102,108)"/>
<rect x="603.30" y="344.90" width="14.25" height="14.00" fill="rgb(250,218,220)"/>
<rect x="617.25" y="344.90" width="14.25" height="14.00" fill="rgb(254,240,240)"/>
<rect x="631.20" y="344.90" width="14.25" height="14.00" fill="rgb(250,218,220)"/>
<rect x="645.15" y="344.90" width="14.25" height="14.00" fill="rgb(252,232,233)"/>
<rect x="659.10" y="344.90" width="14.25" height="14.00" fill="rgb(248,199,202)"/>
<rect x="673.05" y="344.90" width="14.25" height="14.00" fill="rgb(250,218,220)"/>
<rect x="687.00" y="344.90" width="14.25" height="14.00" fill="rgb(239,124,130)"/>
<rect x="700.95" y="344.90" width="14.25" height="14.00" fill="rgb(248,199,202)"/>
<rect x="714.90" y="344.90" width="14.25" height="14.00" fill="rgb(250,218,220)"/>
<rect x="728.85" y="344.90" width="14.25" height="14.00" fill="rgb(244,164,169)"/>
<rect x="742.80" y="344.90" width="14.25" height="14.00" fill="rgb(250,218,220)"/>
<rect x="756.75" y="344.90" width="14.25" height="14.00" fill="rgb(233,82,86)"/>
<rect x="603.30" y="358.60" width="14.25" height="14.00" fill="rgb(250,218,220)"/>
<rect x="617.25" y="358.60" width="14.25" height="14.00" fill="rgb(233,82,86)"/>
<rect x="631.20" y="358.60" width="14.25" height="14.00" fill="rgb(239,124,130)"/>
<rect x="645.15" y="358.60" width="14.25" height="14.00" fill="rgb(248,199,202)"/>
<rect x="659.10" y="358.60" width="14.25" height="14.00" fill="rgb(250,218,220)"/>
<rect x="673.05" y="358.60" width="14.25" height="14.00" fill="rgb(241,138,144)"/>
<rect x="687.00" y="358.60" width="14.25" height="14.00" fill="rgb(248,199,202)"/>
<rect x="700.95" y="358.60" width="14.25" height="14.00" fill="rgb(236,102,108)"/>
<rect x="714.90" y="358.60" width="14.25" height="14.00" fill="rgb(239,124,130)"/>
<rect x="728.85" y="358.60" width="14.25" height="14.00" fill="rgb(223,48,44)"/>
<rect x="742.80" y="358.60" width="14.25" height="14.00" fill="rgb(233,82,86)"/>
<rect x="756.75" y="358.60" width="14.25" height="14.00" fill="rgb(248,199,202)"/>
<rect x="603.30" y="372.30" width="14.25" height="14.00" fill="rgb(254,240,240)"/>
<rect x="617.25" y="372.30" width="14.25" height="14.00" fill="rgb(250,218,220)"/>
<rect x="631.20" y="372.30" width="14.25" height="14.00" fill="rgb(250,218,220)"/>
<rect x="645.15" y="372.30" width="14.25" height="14.00" fill="rgb(252,232,233)"/>
<rect x="659.10" y="372.30" width="14.25" height="14.00" fill="rgb(239,124,130)"/>
<rect x="673.05" y="372.30" width="14.25" height="14.00" fill="rgb(244,164,169)"/>
<rect x="687.00" y="372.30" width="14.25" height="14.00" fill="rgb(250,218,220)"/>
<rect x="700.95" y="372.30" width="14.25" height="14.00" fill="rgb(254,240,240)"/>
<rect x="714.90" y="372.30" width="14.25" height="14.00" fill="rgb(250,218,220)"/>
<rect x="728.85" y="372.30" width="14.25" height="14.00" fill="rgb(244,164,169)"/>
<rect x="742.80" y="372.30" width="14.25" height="14.00" fill="rgb(248,199,202)"/>
<rect x="756.75" y="372.30" width="14.25" height="14.00" fill="rgb(252,232,233)"/>
<rect x="603.30" y="386.00" width="14.25" height="14.00" fill="rgb(248,199,202)"/>
<rect x="617.25" y="386.00" width="14.25" height="14.00" fill="rgb(244,164,169)"/>
<rect x="631.20" y="386.00" width="14.25" height="14.00" fill="rgb(239,124,130)"/>
<rect x="645.15" y="386.00" width="14.25" height="14.00" fill="rgb(250,218,220)"/>
<rect x="659.10" y="386.00" width="14.25" height="14.00" fill="rgb(248,199,202)"/>
<rect x="673.05" y="386.00" width="14.25" height="14.00" fill="rgb(239,124,130)"/>
<rect x="687.00" y="386.00" width="14.25" height="14.00" fill="rgb(248,199,202)"/>
<rect x="700.95" y="386.00" width="14.25" height="14.00" fill="rgb(239,124,130)"/>
<rect x="714.90" y="386.00" width="14.25" height="14.00" fill="rgb(248,199,202)"/>
<rect x="728.85" y="386.00" width="14.25" height="14.00" fill="rgb(239,124,130)"/>
<rect x="742.80" y="386.00" width="14.25" height="14.00" fill="rgb(244,164,169)"/>
<rect x="756.75" y="386.00" width="14.25" height="14.00" fill="rgb(248,199,202)"/>
<rect x="603.3" y="317.5" width="167.40" height="82.20" fill="none" stroke="#333" stroke-width="0.75"/>
<rect x="603.30" y="402.30" width="14.25" height="14.07" fill="rgb(150,177,251)"/>
<rect x="617.25" y="402.30" width="14.25" height="14.07" fill="rgb(31,111,229)"/>
<rect x="631.20" y="402.30" width="14.25" height="14.07" fill="rgb(202,216,253)"/>
<rect x="645.15" y="402.30" width="14.25" height="14.07" fill="rgb(202,216,253)"/>
<rect x="659.10" y="402.30" width="14.25" height="14.07" fill="rgb(160,186,251)"/>
<rect x="673.05" y="402.30" width="14.25" height="14.07" fill="rgb(110,150,245)"/>
<rect x="687.00" y="402.30" width="14.25" height="14.07" fill="rgb(171,194,252)"/>
<rect x="700.95" y="402.30" width="14.25" height="14.07" fill="rgb(202,216,253)"/>
<rect x="714.90" y="402.30" width="14.25" height="14.07" fill="rgb(232,238,254)"/>
<rect x="728.85" y="402.30" width="14.25" height="14.07" fill="rgb(74,128,236)"/>
<rect x="742.80" y="402.30" width="14.25" height="14.07" fill="rgb(32,100,202)"/>
<rect x="756.75" y="402.30" width="14.25" height="14.07" fill="rgb(171,194,252)"/>
<rect x="603.30" y="416.07" width="14.25" height="14.07" fill="rgb(110,150,245)"/>
<rect x="617.25" y="416.07" width="14.25" height="14.07" fill="rgb(31,111,229)"/>
<rect x="631.20" y="416.07" width="14.25" height="14.07" fill="rgb(92,139,241)"/>
<rect x="645.15" y="416.07" width="14.25" height="14.07" fill="rgb(171,194,252)"/>
<rect x="659.10" y="416.07" width="14.25" height="14.07" fill="rgb(160,186,251)"/>
<rect x="673.05" y="416.07" width="14.25" height="14.07" fill="rgb(32,100,202)"/>
<rect x="687.00" y="416.07" width="14.25" height="14.07" fill="rgb(160,186,251)"/>
<rect x="700.95" y="416.07" width="14.25" height="14.07" fill="rgb(171,194,252)"/>
<rect x="714.90" y="416.07" width="14.25" height="14.07" fill="rgb(171,194,252)"/>
<rect x="728.85" y="416.07" width="14.25" height="14.07" fill="rgb(171,194,252)"/>
<rect x="742.80" y="416.07" width="14.25" height="14.07" fill="rgb(92,139,241)"/>
<rect x="756.75" y="416.07" width="14.25" height="14.07" fill="rgb(110,150,245)"/>
<rect x="603.30" y="429.83" width="14.25" height="14.07" fill="rgb(128,161,250)"/>
<rect x="617.25" y="429.83" width="14.25" height="14.07" fill="rgb(160,186,251)"/>
<rect x="631.20" y="429.83" width="14.25" height="14.07" fill="rgb(128,161,250)"/>
<rect x="645.15" y="429.83" width="14.25" height="14.07" fill="rgb(202,216,253)"/>
<rect x="659.10" y="429.83" width="14.25" height="14.07" fill="rgb(192,209,252)"/>
<rect x="673.05" y="429.83" width="14.25" height="14.07" fill="rgb(92,139,241)"/>
<rect x="687.00" y="429.83" width="14.25" height="14.07" fill="rgb(182,202,252)"/>
<rect x="700.95" y="429.83" width="14.25" height="14.07" fill="rgb(202,216,253)"/>
<rect x="714.90" y="429.83" width="14.25" height="14.07" fill="rgb(192,209,252)"/>
<rect x="728.85" y="429.83" width="14.25" height="14.07" fill="rgb(222,231,254)"/>
<rect x="742.80" y="429.83" width="14.25" height="14.07" fill="rgb(150,177,251)"/>
<rect x="756.75" y="429.83" width="14.25" height="14.07" fill="rgb(110,150,245)"/>
<rect x="603.30" y="443.60" width="14.25" height="14.07" fill="rgb(128,161,250)"/>
<rect x="617.25" y="443.60" width="14.25" height="14.07" fill="rgb(150,177,251)"/>
<rect x="631.20" y="443.60" width="14.25" height="14.07" fill="rgb(128,161,250)"/>
<rect x="645.15" y="443.60" width="14.25" height="14.07" fill="rgb(192,209,252)"/>
<rect x="659.10" y="443.60" width="14.25" height="14.07" fill="rgb(171,194,252)"/>
<rect x="673.05" y="443.60" width="14.25" height="14.07" fill="rgb(182,202,252)"/>
<rect x="687.00" y="443.60" width="14.25" height="14.07" fill="rgb(160,186,251)"/>
<rect x="700.95" y="443.60" width="14.25" height="14.07" fill="rgb(31,106,216)"/>
<rect x="714.90" y="443.60" width="14.25" height="14.07" fill="rgb(128,161,250)"/>
<rect x="728.85" y="443.60" width="14.25" height="14.07" fill="rgb(60,122,234)"/>
<rect x="742.80" y="443.60" width="14.25" height="14.07" fill="rgb(31,106,216)"/>
<rect x="756.75" y="443.60" width="14.25" height="14.07" fill="rgb(128,161,250)"/>
<rect x="603.30" y="457.37" width="14.25" height="14.07" fill="rgb(212,224,253)"/>
<rect x="617.25" y="457.37" width="14.25" height="14.07" fill="rgb(32,94,189)"/>
<rect x="631.20" y="457.37" width="14.25" height="14.07" fill="rgb(128,161,250)"/>
<rect x="645.15" y="457.37" width="14.25" height="14.07" fill="rgb(128,161,250)"/>
<rect x="659.10" y="457.37" width="14.25" height="14.07" fill="rgb(241,245,254)"/>
<rect x="673.05" y="457.37" width="14.25" height="14.07" fill="rgb(202,216,253)"/>
<rect x="687.00" y="457.37" width="14.25" height="14.07" fill="rgb(32,89,176)"/>
<rect x="700.95" y="457.37" width="14.25" height="14.07" fill="rgb(202,216,253)"/>
<rect x="714.90" y="457.37" width="14.25" height="14.07" fill="rgb(32,94,189)"/>
<rect x="728.85" y="457.37" width="14.25" height="14.07" fill="rgb(128,161,250)"/>
<rect x="742.80" y="457.37" width="14.25" height="14.07" fill="rgb(241,245,254)"/>
<rect x="756.75" y="457.37" width="14.25" height="14.07" fill="rgb(74,128,236)"/>
<rect x="603.30" y="471.13" width="14.25" height="14.07" fill="rgb(128,161,250)"/>
<rect x="617.25" y="471.13" width="14.25" height="14.07" fill="rgb(32,100,202)"/>
<rect x="631.20" y="471.13" width="14.25" height="14.07" fill="rgb(222,231,254)"/>
<rect x="645.15" y="471.13" width="14.25" height="14.07" fill="rgb(160,186,251)"/>
<rect x="659.10" y="471.13" width="14.25" height="14.07" fill="rgb(160,186,251)"/>
<rect x="673.05" y="471.13" width="14.25" height="14.07" fill="rgb(171,194,252)"/>
<rect x="687.00" y="471.13" width="14.25" height="14.07" fill="rgb(171,194,252)"/>
<rect x="700.95" y="471.13" width="14.25" height="14.07" fill="rgb(160,186,251)"/>
<rect x="714.90" y="471.13" width="14.25" height="14.07" fill="rgb(60,122,234)"/>
<rect x="728.85" y="471.13" width="14.25" height="14.07" fill="rgb(128,161,250)"/>
<rect x="742.80" y="471.13" width="14.25" height="14.07" fill="rgb(150,177,251)"/>
<rect x="756.75" y="471.13" width="14.25" height="14.07" fill="rgb(74,128,236)"/>
<rect x="603.3" y="402.3" width="167.40" height="82.60" fill="none" stroke="#333" stroke-width="0.75"/>
<defs><linearGradient id="gr" x1="0" y1="0" x2="0" y2="1"><stop offset="0.0%" stop-color="rgb(220,40,36)"/><stop offset="20.0%" stop-color="rgb(223,48,44)"/><stop offset="40.0%" stop-color="rgb(233,82,86)"/><stop offset="46.7%" stop-color="rgb(236,102,108)"/><stop offset="53.3%" stop-color="rgb(239,124,130)"/><stop offset="60.0%" stop-color="rgb(241,138,144)"/><stop offset="66.7%" stop-color="rgb(244,164,169)"/><stop offset="80.0%" stop-color="rgb(248,199,202)"/><stop offset="86.7%" stop-color="rgb(250,218,220)"/><stop offset="93.3%" stop-color="rgb(252,232,233)"/><stop offset="100.0%" stop-color="rgb(255,247,247)"/></linearGradient></defs>
<rect x="779.4" y="321.1" width="7.00" height="74.90" fill="url(#gr)" stroke="#555" stroke-width="0.8"/>
<line x1="784.40" y1="396.00" x2="786.40" y2="396.00" stroke="#333" stroke-width="0.8"/>
<text x="788.3" y="400.0" font-size="11.5" text-anchor="start" font-family="Liberation Sans, sans-serif" fill="#000" >0</text>
<line x1="784.40" y1="381.02" x2="786.40" y2="381.02" stroke="#333" stroke-width="0.8"/>
<text x="788.3" y="385.0" font-size="11.5" text-anchor="start" font-family="Liberation Sans, sans-serif" fill="#000" >3</text>
<line x1="784.40" y1="366.04" x2="786.40" y2="366.04" stroke="#333" stroke-width="0.8"/>
<text x="788.3" y="370.0" font-size="11.5" text-anchor="start" font-family="Liberation Sans, sans-serif" fill="#000" >6</text>
<line x1="784.40" y1="351.06" x2="786.40" y2="351.06" stroke="#333" stroke-width="0.8"/>
<text x="788.3" y="355.1" font-size="11.5" text-anchor="start" font-family="Liberation Sans, sans-serif" fill="#000" >9</text>
<line x1="784.40" y1="336.08" x2="786.40" y2="336.08" stroke="#333" stroke-width="0.8"/>
<text x="788.3" y="340.1" font-size="11.5" text-anchor="start" font-family="Liberation Sans, sans-serif" fill="#000" >12</text>
<line x1="784.40" y1="321.10" x2="786.40" y2="321.10" stroke="#333" stroke-width="0.8"/>
<text x="788.3" y="325.1" font-size="11.5" text-anchor="start" font-family="Liberation Sans, sans-serif" fill="#000" >15</text>
<defs><linearGradient id="gb" x1="0" y1="0" x2="0" y2="1"><stop offset="0.0%" stop-color="rgb(32,89,176)"/><stop offset="16.0%" stop-color="rgb(31,111,229)"/><stop offset="28.0%" stop-color="rgb(74,128,236)"/><stop offset="40.0%" stop-color="rgb(128,161,250)"/><stop offset="60.0%" stop-color="rgb(182,202,252)"/><stop offset="80.0%" stop-color="rgb(232,238,254)"/><stop offset="100.0%" stop-color="rgb(255,255,255)"/></linearGradient></defs>
<rect x="779.4" y="406.1" width="7.00" height="75.50" fill="url(#gb)" stroke="#555" stroke-width="0.8"/>
<line x1="784.40" y1="481.60" x2="786.40" y2="481.60" stroke="#333" stroke-width="0.8"/>
<text x="788.3" y="486.2" font-size="12.3" text-anchor="start" font-family="Liberation Sans, sans-serif" fill="#000" >0</text>
<line x1="784.40" y1="466.50" x2="786.40" y2="466.50" stroke="#333" stroke-width="0.8"/>
<text x="788.3" y="471.1" font-size="12.3" text-anchor="start" font-family="Liberation Sans, sans-serif" fill="#000" >5</text>
<line x1="784.40" y1="451.40" x2="786.40" y2="451.40" stroke="#333" stroke-width="0.8"/>
<text x="788.3" y="456.0" font-size="12.3" text-anchor="start" font-family="Liberation Sans, sans-serif" fill="#000" >10</text>
<line x1="784.40" y1="436.30" x2="786.40" y2="436.30" stroke="#333" stroke-width="0.8"/>
<text x="788.3" y="440.9" font-size="12.3" text-anchor="start" font-family="Liberation Sans, sans-serif" fill="#000" >15</text>
<line x1="784.40" y1="421.20" x2="786.40" y2="421.20" stroke="#333" stroke-width="0.8"/>
<text x="788.3" y="425.8" font-size="12.3" text-anchor="start" font-family="Liberation Sans, sans-serif" fill="#000" >20</text>
<line x1="784.40" y1="406.10" x2="786.40" y2="406.10" stroke="#333" stroke-width="0.8"/>
<text x="788.3" y="410.7" font-size="12.3" text-anchor="start" font-family="Liberation Sans, sans-serif" fill="#000" >25</text>
<text x="576.2" y="333" font-size="24" text-anchor="start" font-family="Liberation Sans, sans-serif" fill="#000" >(f)</text>
<text x="694" y="501.0" font-size="15.4" text-anchor="middle" font-family="Liberation Sans, sans-serif" fill="#000" >Access number</text>
<!-- panel g -->
<rect x="858.9" y="317.5" width="212.50" height="154.10" fill="none" stroke="#222" stroke-width="1.0"/>
<rect x="858.90" y="330.34" width="10.63" height="141.81" fill="#bccbfa"/>
<path d="M858.90,472.00 L858.90,330.34 L869.52,330.34 L869.52,472.00" fill="none" stroke="#2a2a33" stroke-width="0.9"/>
<rect x="869.52" y="370.15" width="10.63" height="102.00" fill="#bccbfa"/>
<path d="M869.52,472.00 L869.52,370.15 L880.15,370.15 L880.15,472.00" fill="none" stroke="#2a2a33" stroke-width="0.9"/>
<rect x="880.15" y="386.85" width="10.63" height="85.31" fill="#bccbfa"/>
<path d="M880.15,472.00 L880.15,386.85 L890.77,386.85 L890.77,472.00" fill="none" stroke="#2a2a33" stroke-width="0.9"/>
<rect x="890.77" y="404.82" width="10.63" height="67.33" fill="#bccbfa"/>
<path d="M890.77,472.00 L890.77,404.82 L901.40,404.82 L901.40,472.00" fill="none" stroke="#2a2a33" stroke-width="0.9"/>
<rect x="901.40" y="415.10" width="10.63" height="57.05" fill="#bccbfa"/>
<path d="M901.40,472.00 L901.40,415.10 L912.02,415.10 L912.02,472.00" fill="none" stroke="#2a2a33" stroke-width="0.9"/>
<rect x="912.02" y="433.20" width="10.63" height="38.95" fill="#bccbfa"/>
<path d="M912.02,472.00 L912.02,433.20 L922.65,433.20 L922.65,472.00" fill="none" stroke="#2a2a33" stroke-width="0.9"/>
<rect x="922.65" y="447.33" width="10.63" height="24.82" fill="#bccbfa"/>
<path d="M922.65,472.00 L922.65,447.33 L933.27,447.33 L933.27,472.00" fill="none" stroke="#2a2a33" stroke-width="0.9"/>
<rect x="933.27" y="453.62" width="10.63" height="18.53" fill="#bccbfa"/>
<path d="M933.27,472.00 L933.27,453.62 L943.90,453.62 L943.90,472.00" fill="none" stroke="#2a2a33" stroke-width="0.9"/>
<rect x="943.90" y="449.51" width="10.63" height="22.64" fill="#bccbfa"/>
<path d="M943.90,472.00 L943.90,449.51 L954.52,449.51 L954.52,472.00" fill="none" stroke="#2a2a33" stroke-width="0.9"/>
<rect x="954.52" y="451.05" width="10.63" height="21.10" fill="#bccbfa"/>
<path d="M954.52,472.00 L954.52,451.05 L965.15,451.05 L965.15,472.00" fill="none" stroke="#2a2a33" stroke-width="0.9"/>
<rect x="965.15" y="466.59" width="10.63" height="5.56" fill="#bccbfa"/>
<path d="M965.15,472.00 L965.15,466.59 L975.78,466.59 L975.78,472.00" fill="none" stroke="#2a2a33" stroke-width="0.9"/>
<rect x="975.78" y="466.85" width="10.63" height="5.30" fill="#bccbfa"/>
<path d="M975.78,472.00 L975.78,466.85 L986.40,466.85 L986.40,472.00" fill="none" stroke="#2a2a33" stroke-width="0.9"/>
<rect x="986.40" y="465.18" width="10.63" height="6.97" fill="#bccbfa"/>
<path d="M986.40,472.00 L986.40,465.18 L997.03,465.18 L997.03,472.00" fill="none" stroke="#2a2a33" stroke-width="0.9"/>
<rect x="997.03" y="466.21" width="10.63" height="5.94" fill="#bccbfa"/>
<path d="M997.03,472.00 L997.03,466.21 L1007.65,466.21 L1007.65,472.00" fill="none" stroke="#2a2a33" stroke-width="0.9"/>
<rect x="1007.65" y="467.36" width="10.63" height="4.79" fill="#bccbfa"/>
<path d="M1007.65,472.00 L1007.65,467.36 L1018.28,467.36 L1018.28,472.00" fill="none" stroke="#2a2a33" stroke-width="0.9"/>
<rect x="1018.28" y="466.21" width="10.63" height="5.94" fill="#bccbfa"/>
<path d="M1018.28,472.00 L1018.28,466.21 L1028.90,466.21 L1028.90,472.00" fill="none" stroke="#2a2a33" stroke-width="0.9"/>
<rect x="1050.15" y="470.44" width="10.63" height="1.71" fill="#bccbfa"/>
<path d="M1050.15,472.00 L1050.15,470.44 L1060.78,470.44 L1060.78,472.00" fill="none" stroke="#2a2a33" stroke-width="0.9"/>
<rect x="1060.78" y="464.02" width="10.63" height="8.13" fill="#bccbfa"/>
<path d="M1060.78,472.00 L1060.78,464.02 L1071.40,464.02 L1071.40,472.00" fill="none" stroke="#2a2a33" stroke-width="0.9"/>
<rect x="858.90" y="428.20" width="10.63" height="43.95" fill="#fb86a0"/>
<path d="M858.90,472.00 L858.90,428.20 L869.52,428.20 L869.52,472.00" fill="none" stroke="#2a2a33" stroke-width="0.9"/>
<rect x="869.52" y="440.65" width="10.63" height="31.50" fill="#fb86a0"/>
<path d="M869.52,472.00 L869.52,440.65 L880.15,440.65 L880.15,472.00" fill="none" stroke="#2a2a33" stroke-width="0.9"/>
<rect x="880.15" y="458.76" width="10.63" height="13.39" fill="#fb86a0"/>
<path d="M880.15,472.00 L880.15,458.76 L890.77,458.76 L890.77,472.00" fill="none" stroke="#2a2a33" stroke-width="0.9"/>
<rect x="890.77" y="455.16" width="10.63" height="16.99" fill="#fb86a0"/>
<path d="M890.77,472.00 L890.77,455.16 L901.40,455.16 L901.40,472.00" fill="none" stroke="#2a2a33" stroke-width="0.9"/>
<rect x="901.40" y="458.76" width="10.63" height="13.39" fill="#fb86a0"/>
<path d="M901.40,472.00 L901.40,458.76 L912.02,458.76 L912.02,472.00" fill="none" stroke="#2a2a33" stroke-width="0.9"/>
<rect x="912.02" y="464.02" width="10.63" height="8.13" fill="#fb86a0"/>
<path d="M912.02,472.00 L912.02,464.02 L922.65,464.02 L922.65,472.00" fill="none" stroke="#2a2a33" stroke-width="0.9"/>
<rect x="922.65" y="467.36" width="10.63" height="4.79" fill="#fb86a0"/>
<path d="M922.65,472.00 L922.65,467.36 L933.27,467.36 L933.27,472.00" fill="none" stroke="#2a2a33" stroke-width="0.9"/>
<rect x="933.27" y="469.03" width="10.63" height="3.12" fill="#fb86a0"/>
<path d="M933.27,472.00 L933.27,469.03 L943.90,469.03 L943.90,472.00" fill="none" stroke="#2a2a33" stroke-width="0.9"/>
<rect x="943.90" y="470.32" width="10.63" height="1.83" fill="#fb86a0"/>
<path d="M943.90,472.00 L943.90,470.32 L954.52,470.32 L954.52,472.00" fill="none" stroke="#2a2a33" stroke-width="0.9"/>
<rect x="954.52" y="469.03" width="10.63" height="3.12" fill="#fb86a0"/>
<path d="M954.52,472.00 L954.52,469.03 L965.15,469.03 L965.15,472.00" fill="none" stroke="#2a2a33" stroke-width="0.9"/>
<rect x="965.15" y="469.03" width="10.63" height="3.12" fill="#fb86a0"/>
<path d="M965.15,472.00 L965.15,469.03 L975.78,469.03 L975.78,472.00" fill="none" stroke="#2a2a33" stroke-width="0.9"/>
<rect x="1018.28" y="470.32" width="10.63" height="1.83" fill="#fb86a0"/>
<path d="M1018.28,472.00 L1018.28,470.32 L1028.90,470.32 L1028.90,472.00" fill="none" stroke="#2a2a33" stroke-width="0.9"/>
<line x1="858.90" y1="471.60" x2="861.10" y2="471.60" stroke="#222" stroke-width="0.9"/>
<text x="855.5" y="476.8" font-size="13.5" text-anchor="end" font-family="Liberation Sans, sans-serif" fill="#000" >0</text>
<line x1="858.90" y1="433.08" x2="861.10" y2="433.08" stroke="#222" stroke-width="0.9"/>
<text x="855.5" y="438.3" font-size="13.5" text-anchor="end" font-family="Liberation Sans, sans-serif" fill="#000" >30</text>
<line x1="858.90" y1="394.55" x2="861.10" y2="394.55" stroke="#222" stroke-width="0.9"/>
<text x="855.5" y="399.8" font-size="13.5" text-anchor="end" font-family="Liberation Sans, sans-serif" fill="#000" >60</text>
<line x1="858.90" y1="356.02" x2="861.10" y2="356.02" stroke="#222" stroke-width="0.9"/>
<text x="855.5" y="361.2" font-size="13.5" text-anchor="end" font-family="Liberation Sans, sans-serif" fill="#000" >90</text>
<line x1="858.90" y1="317.50" x2="861.10" y2="317.50" stroke="#222" stroke-width="0.9"/>
<text x="855.5" y="322.7" font-size="13.5" text-anchor="end" font-family="Liberation Sans, sans-serif" fill="#000" >120</text>
<line x1="858.90" y1="471.60" x2="858.90" y2="469.40" stroke="#222" stroke-width="0.9"/>
<text x="859.9" y="488.3" font-size="13.5" text-anchor="middle" font-family="Liberation Sans, sans-serif" fill="#000" >0</text>
<line x1="901.40" y1="471.60" x2="901.40" y2="469.40" stroke="#222" stroke-width="0.9"/>
<text x="901.4" y="488.3" font-size="13.5" text-anchor="middle" font-family="Liberation Sans, sans-serif" fill="#000" >100</text>
<line x1="943.90" y1="471.60" x2="943.90" y2="469.40" stroke="#222" stroke-width="0.9"/>
<text x="943.9" y="488.3" font-size="13.5" text-anchor="middle" font-family="Liberation Sans, sans-serif" fill="#000" >200</text>
<line x1="986.40" y1="471.60" x2="986.40" y2="469.40" stroke="#222" stroke-width="0.9"/>
<text x="986.4" y="488.3" font-size="13.5" text-anchor="middle" font-family="Liberation Sans, sans-serif" fill="#000" >300</text>
<line x1="1028.90" y1="471.60" x2="1028.90" y2="469.40" stroke="#222" stroke-width="0.9"/>
<text x="1028.9" y="488.3" font-size="13.5" text-anchor="middle" font-family="Liberation Sans, sans-serif" fill="#000" >400</text>
<line x1="1071.40" y1="471.60" x2="1071.40" y2="469.40" stroke="#222" stroke-width="0.9"/>
<text x="1070.4" y="488.3" font-size="13.5" text-anchor="middle" font-family="Liberation Sans, sans-serif" fill="#000" >500</text>
<text x="804.2" y="324.2" font-size="24" text-anchor="start" font-family="Liberation Sans, sans-serif" fill="#000" >(g)</text>
<text transform="translate(831.4,400.4) rotate(-90)" font-size="15.2" text-anchor="middle" font-family="Liberation Sans, sans-serif" fill="#000">Qubit number</text>
<text x="915.2" y="503.1" font-size="15.2" font-family="Liberation Sans, sans-serif" fill="#000">Storage time (<tspan font-family="Liberation Serif, serif" font-style="italic" font-size="17.5">μs</tspan>)</text>
<rect x="966.8" y="325.7" width="89.30" height="70.50" fill="#fff" stroke="#666" stroke-width="1"/>
<rect x="970.0" y="382.25" width="4.30" height="13.95" fill="#bccbfa" stroke="#2a2a33" stroke-width="0.9"/>
<rect x="984.3" y="382.25" width="4.30" height="13.95" fill="#bccbfa" stroke="#2a2a33" stroke-width="0.9"/>
<rect x="1048.1" y="340.40" width="4.70" height="55.80" fill="#bccbfa" stroke="#2a2a33" stroke-width="0.9"/>
<line x1="966.80" y1="396.20" x2="969.20" y2="396.20" stroke="#555" stroke-width="0.8"/>
<text x="963.1999999999999" y="401.0" font-size="14.0" text-anchor="end" font-family="Liberation Sans, sans-serif" fill="#000" >0</text>
<line x1="966.80" y1="382.25" x2="968.20" y2="382.25" stroke="#555" stroke-width="0.8"/>
<line x1="966.80" y1="368.30" x2="969.20" y2="368.30" stroke="#555" stroke-width="0.8"/>
<text x="963.1999999999999" y="373.1" font-size="14.0" text-anchor="end" font-family="Liberation Sans, sans-serif" fill="#000" >2</text>
<line x1="966.80" y1="354.35" x2="968.20" y2="354.35" stroke="#555" stroke-width="0.8"/>
<line x1="966.80" y1="340.40" x2="969.20" y2="340.40" stroke="#555" stroke-width="0.8"/>
<text x="963.1999999999999" y="345.2" font-size="14.0" text-anchor="end" font-family="Liberation Sans, sans-serif" fill="#000" >4</text>
<line x1="966.80" y1="396.20" x2="966.80" y2="394.80" stroke="#555" stroke-width="0.8"/>
<line x1="984.60" y1="396.20" x2="984.60" y2="393.80" stroke="#555" stroke-width="0.8"/>
<line x1="1002.40" y1="396.20" x2="1002.40" y2="394.80" stroke="#555" stroke-width="0.8"/>
<line x1="1020.20" y1="396.20" x2="1020.20" y2="393.80" stroke="#555" stroke-width="0.8"/>
<line x1="1038.00" y1="396.20" x2="1038.00" y2="394.80" stroke="#555" stroke-width="0.8"/>
<line x1="1055.80" y1="396.20" x2="1055.80" y2="393.80" stroke="#555" stroke-width="0.8"/>
<text x="985.2" y="410.7" font-size="14.0" text-anchor="middle" font-family="Liberation Sans, sans-serif" fill="#000" >480</text>
<text x="1020.6" y="410.7" font-size="14.0" text-anchor="middle" font-family="Liberation Sans, sans-serif" fill="#000" >490</text>
<text x="1056.4" y="410.7" font-size="14.0" text-anchor="middle" font-family="Liberation Sans, sans-serif" fill="#000" >500</text>
<text x="1025" y="338.9" font-size="13.4" text-anchor="start" font-family="Liberation Sans, sans-serif" fill="#000" >0.4%</text>
<line x1="1038.40" y1="342.10" x2="1044.90" y2="357.50" stroke="#111" stroke-width="1.1"/>
<!-- panel h -->
<rect x="1128.3" y="317.5" width="213.20" height="153.70" fill="none" stroke="#6a6a6a" stroke-width="1.25"/>
<rect x="1151.99" y="470.18" width="11.84" height="1.57" fill="#bccbfa"/>
<path d="M1151.99,471.60 L1151.99,470.18 L1163.83,470.18 L1163.83,471.60" fill="none" stroke="#2a2a33" stroke-width="0.9"/>
<rect x="1163.83" y="468.64" width="11.84" height="3.11" fill="#bccbfa"/>
<path d="M1163.83,471.60 L1163.83,468.64 L1175.68,468.64 L1175.68,471.60" fill="none" stroke="#2a2a33" stroke-width="0.9"/>
<rect x="1175.68" y="469.28" width="11.84" height="2.47" fill="#bccbfa"/>
<path d="M1175.68,471.60 L1175.68,469.28 L1187.52,469.28 L1187.52,471.60" fill="none" stroke="#2a2a33" stroke-width="0.9"/>
<rect x="1187.52" y="459.80" width="11.84" height="11.95" fill="#bccbfa"/>
<path d="M1187.52,471.60 L1187.52,459.80 L1199.37,459.80 L1199.37,471.60" fill="none" stroke="#2a2a33" stroke-width="0.9"/>
<rect x="1199.37" y="458.39" width="11.84" height="13.36" fill="#bccbfa"/>
<path d="M1199.37,471.60 L1199.37,458.39 L1211.21,458.39 L1211.21,471.60" fill="none" stroke="#2a2a33" stroke-width="0.9"/>
<rect x="1211.21" y="457.37" width="11.84" height="14.38" fill="#bccbfa"/>
<path d="M1211.21,471.60 L1211.21,457.37 L1223.06,457.37 L1223.06,471.60" fill="none" stroke="#2a2a33" stroke-width="0.9"/>
<rect x="1223.06" y="441.61" width="11.84" height="30.14" fill="#bccbfa"/>
<path d="M1223.06,471.60 L1223.06,441.61 L1234.90,441.61 L1234.90,471.60" fill="none" stroke="#2a2a33" stroke-width="0.9"/>
<rect x="1234.90" y="448.40" width="11.84" height="23.35" fill="#bccbfa"/>
<path d="M1234.90,471.60 L1234.90,448.40 L1246.74,448.40 L1246.74,471.60" fill="none" stroke="#2a2a33" stroke-width="0.9"/>
<rect x="1246.74" y="446.99" width="11.84" height="24.76" fill="#bccbfa"/>
<path d="M1246.74,471.60 L1246.74,446.99 L1258.59,446.99 L1258.59,471.60" fill="none" stroke="#2a2a33" stroke-width="0.9"/>
<rect x="1258.59" y="434.31" width="11.84" height="37.44" fill="#bccbfa"/>
<path d="M1258.59,471.60 L1258.59,434.31 L1270.43,434.31 L1270.43,471.60" fill="none" stroke="#2a2a33" stroke-width="0.9"/>
<rect x="1270.43" y="431.37" width="11.84" height="40.38" fill="#bccbfa"/>
<path d="M1270.43,471.60 L1270.43,431.37 L1282.28,431.37 L1282.28,471.60" fill="none" stroke="#2a2a33" stroke-width="0.9"/>
<rect x="1282.28" y="412.28" width="11.84" height="59.47" fill="#bccbfa"/>
<path d="M1282.28,471.60 L1282.28,412.28 L1294.12,412.28 L1294.12,471.60" fill="none" stroke="#2a2a33" stroke-width="0.9"/>
<rect x="1294.12" y="380.26" width="11.84" height="91.49" fill="#bccbfa"/>
<path d="M1294.12,471.60 L1294.12,380.26 L1305.97,380.26 L1305.97,471.60" fill="none" stroke="#2a2a33" stroke-width="0.9"/>
<rect x="1305.97" y="369.76" width="11.84" height="101.99" fill="#bccbfa"/>
<path d="M1305.97,471.60 L1305.97,369.76 L1317.81,369.76 L1317.81,471.60" fill="none" stroke="#2a2a33" stroke-width="0.9"/>
<rect x="1317.81" y="354.52" width="11.84" height="117.23" fill="#bccbfa"/>
<path d="M1317.81,471.60 L1317.81,354.52 L1329.66,354.52 L1329.66,471.60" fill="none" stroke="#2a2a33" stroke-width="0.9"/>
<rect x="1329.66" y="425.35" width="11.84" height="46.40" fill="#bccbfa"/>
<path d="M1329.66,471.60 L1329.66,425.35 L1341.50,425.35 L1341.50,471.60" fill="none" stroke="#2a2a33" stroke-width="0.9"/>
<rect x="1151.99" y="470.56" width="11.84" height="1.19" fill="#fb86a0"/>
<path d="M1151.99,471.60 L1151.99,470.56 L1163.83,470.56 L1163.83,471.60" fill="none" stroke="#2a2a33" stroke-width="0.9"/>
<rect x="1163.83" y="468.64" width="11.84" height="3.11" fill="#fb86a0"/>
<path d="M1163.83,471.60 L1163.83,468.64 L1175.68,468.64 L1175.68,471.60" fill="none" stroke="#2a2a33" stroke-width="0.9"/>
<rect x="1175.68" y="469.92" width="11.84" height="1.83" fill="#fb86a0"/>
<path d="M1175.68,471.60 L1175.68,469.92 L1187.52,469.92 L1187.52,471.60" fill="none" stroke="#2a2a33" stroke-width="0.9"/>
<rect x="1187.52" y="468.64" width="11.84" height="3.11" fill="#fb86a0"/>
<path d="M1187.52,471.60 L1187.52,468.64 L1199.37,468.64 L1199.37,471.60" fill="none" stroke="#2a2a33" stroke-width="0.9"/>
<rect x="1199.37" y="466.08" width="11.84" height="5.67" fill="#fb86a0"/>
<path d="M1199.37,471.60 L1199.37,466.08 L1211.21,466.08 L1211.21,471.60" fill="none" stroke="#2a2a33" stroke-width="0.9"/>
<rect x="1223.06" y="457.11" width="11.84" height="14.64" fill="#fb86a0"/>
<path d="M1223.06,471.60 L1223.06,457.11 L1234.90,457.11 L1234.90,471.60" fill="none" stroke="#2a2a33" stroke-width="0.9"/>
<rect x="1234.90" y="466.08" width="11.84" height="5.67" fill="#fb86a0"/>
<path d="M1234.90,471.60 L1234.90,466.08 L1246.74,466.08 L1246.74,471.60" fill="none" stroke="#2a2a33" stroke-width="0.9"/>
<rect x="1246.74" y="466.08" width="11.84" height="5.67" fill="#fb86a0"/>
<path d="M1246.74,471.60 L1246.74,466.08 L1258.59,466.08 L1258.59,471.60" fill="none" stroke="#2a2a33" stroke-width="0.9"/>
<rect x="1258.59" y="466.08" width="11.84" height="5.67" fill="#fb86a0"/>
<path d="M1258.59,471.60 L1258.59,466.08 L1270.43,466.08 L1270.43,471.60" fill="none" stroke="#2a2a33" stroke-width="0.9"/>
<rect x="1270.43" y="462.23" width="11.84" height="9.52" fill="#fb86a0"/>
<path d="M1270.43,471.60 L1270.43,462.23 L1282.28,462.23 L1282.28,471.60" fill="none" stroke="#2a2a33" stroke-width="0.9"/>
<rect x="1282.28" y="458.39" width="11.84" height="13.36" fill="#fb86a0"/>
<path d="M1282.28,471.60 L1282.28,458.39 L1294.12,458.39 L1294.12,471.60" fill="none" stroke="#2a2a33" stroke-width="0.9"/>
<rect x="1294.12" y="458.39" width="11.84" height="13.36" fill="#fb86a0"/>
<path d="M1294.12,471.60 L1294.12,458.39 L1305.97,458.39 L1305.97,471.60" fill="none" stroke="#2a2a33" stroke-width="0.9"/>
<rect x="1305.97" y="456.21" width="11.84" height="15.54" fill="#fb86a0"/>
<path d="M1305.97,471.60 L1305.97,456.21 L1317.81,456.21 L1317.81,471.60" fill="none" stroke="#2a2a33" stroke-width="0.9"/>
<rect x="1317.81" y="441.61" width="11.84" height="30.14" fill="#fb86a0"/>
<path d="M1317.81,471.60 L1317.81,441.61 L1329.66,441.61 L1329.66,471.60" fill="none" stroke="#2a2a33" stroke-width="0.9"/>
<rect x="1329.66" y="453.27" width="11.84" height="18.48" fill="#fb86a0"/>
<path d="M1329.66,471.60 L1329.66,453.27 L1341.50,453.27 L1341.50,471.60" fill="none" stroke="#2a2a33" stroke-width="0.9"/>
<line x1="1128.30" y1="471.20" x2="1130.50" y2="471.20" stroke="#222" stroke-width="0.9"/>
<text x="1124.8999999999999" y="476.1" font-size="13.5" text-anchor="end" font-family="Liberation Sans, sans-serif" fill="#000" >0</text>
<line x1="1128.30" y1="432.77" x2="1130.50" y2="432.77" stroke="#222" stroke-width="0.9"/>
<text x="1124.8999999999999" y="437.7" font-size="13.5" text-anchor="end" font-family="Liberation Sans, sans-serif" fill="#000" >30</text>
<line x1="1128.30" y1="394.35" x2="1130.50" y2="394.35" stroke="#222" stroke-width="0.9"/>
<text x="1124.8999999999999" y="399.2" font-size="13.5" text-anchor="end" font-family="Liberation Sans, sans-serif" fill="#000" >60</text>
<line x1="1128.30" y1="355.93" x2="1130.50" y2="355.93" stroke="#222" stroke-width="0.9"/>
<text x="1124.8999999999999" y="360.8" font-size="13.5" text-anchor="end" font-family="Liberation Sans, sans-serif" fill="#000" >90</text>
<line x1="1128.30" y1="317.50" x2="1130.50" y2="317.50" stroke="#222" stroke-width="0.9"/>
<text x="1124.8999999999999" y="322.4" font-size="13.5" text-anchor="end" font-family="Liberation Sans, sans-serif" fill="#000" >120</text>
<line x1="1128.30" y1="471.20" x2="1128.30" y2="469.00" stroke="#222" stroke-width="0.9"/>
<text x="1128.3" y="488.3" font-size="13.5" text-anchor="middle" font-family="Liberation Sans, sans-serif" fill="#000" >0.7</text>
<line x1="1199.37" y1="471.20" x2="1199.37" y2="469.00" stroke="#222" stroke-width="0.9"/>
<text x="1199.4" y="488.3" font-size="13.5" text-anchor="middle" font-family="Liberation Sans, sans-serif" fill="#000" >0.8</text>
<line x1="1270.43" y1="471.20" x2="1270.43" y2="469.00" stroke="#222" stroke-width="0.9"/>
<text x="1270.4" y="488.3" font-size="13.5" text-anchor="middle" font-family="Liberation Sans, sans-serif" fill="#000" >0.9</text>
<line x1="1341.50" y1="471.20" x2="1341.50" y2="469.00" stroke="#222" stroke-width="0.9"/>
<text x="1341.5" y="488.3" font-size="13.5" text-anchor="middle" font-family="Liberation Sans, sans-serif" fill="#000" >1.0</text>
<text x="1073.5" y="328" font-size="24" text-anchor="start" font-family="Liberation Sans, sans-serif" fill="#000" >(h)</text>
<text transform="translate(1101.2,401.2) rotate(-90)" font-size="15.2" text-anchor="middle" font-family="Liberation Sans, sans-serif" fill="#000">Qubit number</text>
<text x="1236.6" y="502.5" font-size="15.2" text-anchor="middle" font-family="Liberation Sans, sans-serif" fill="#000" >Fidelity</text>
</svg>
</body></html>
